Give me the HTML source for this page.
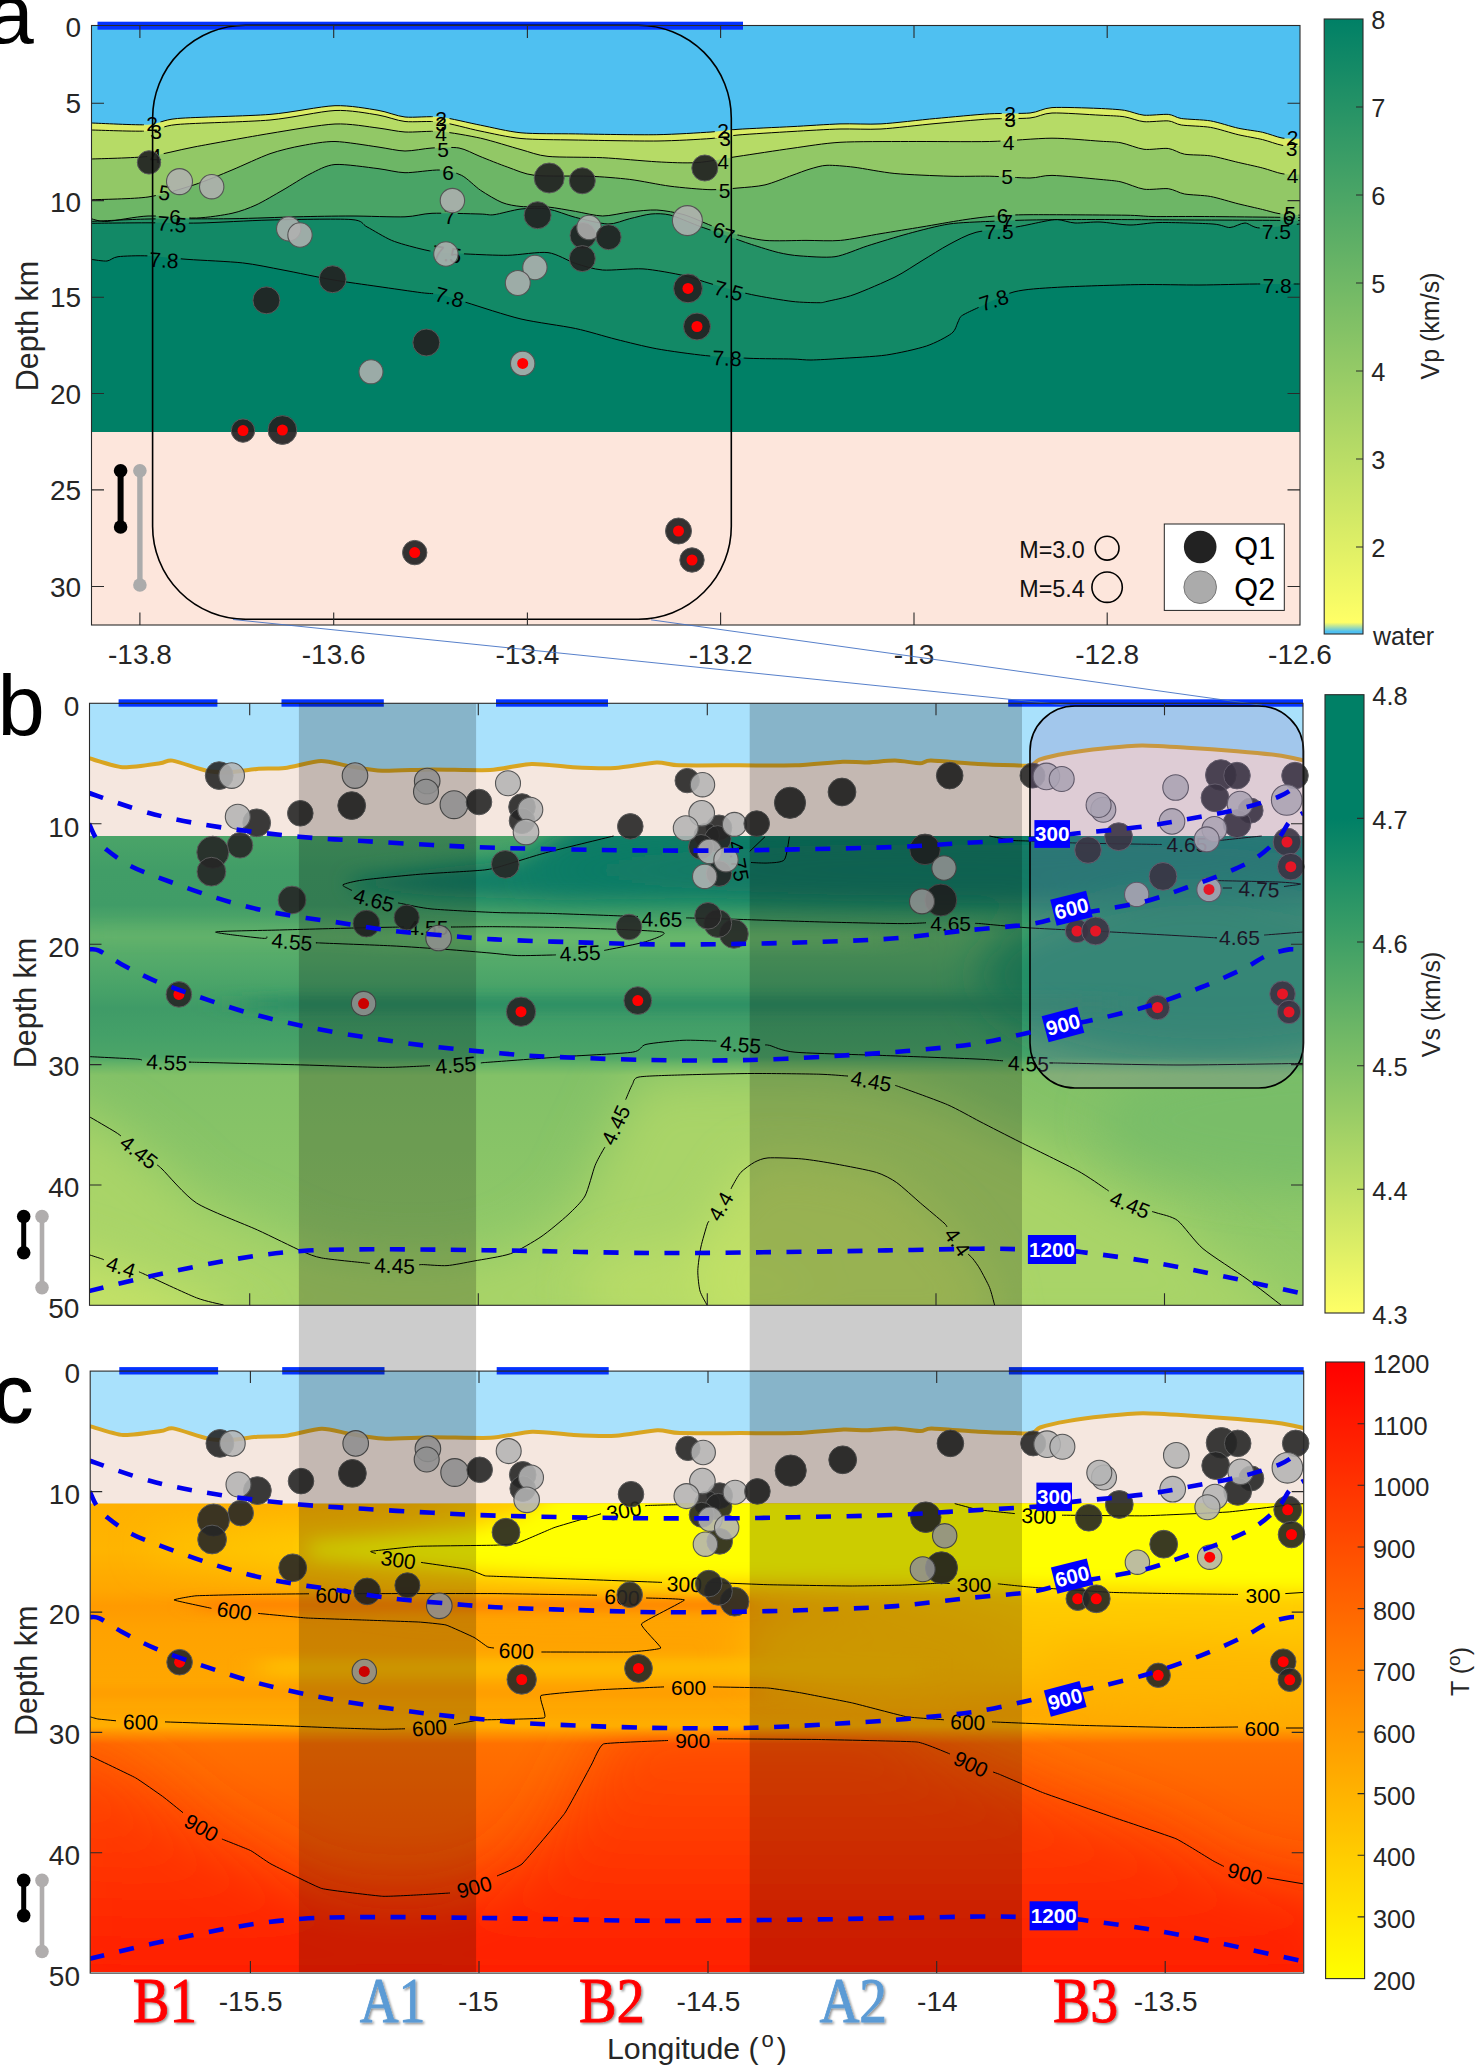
<!DOCTYPE html>
<html><head><meta charset="utf-8"><title>Figure</title>
<style>html,body{margin:0;padding:0;background:#fff}svg{display:block}</style></head><body>
<svg width="1476" height="2068" viewBox="0 0 1476 2068" font-family='"Liberation Sans", sans-serif'>
<rect width="1476" height="2068" fill="#fff"/>
<g id="pa">
<clipPath id="clipA"><rect x="91.5" y="25.5" width="1208.5" height="599.5"/></clipPath>
<g clip-path="url(#clipA)">
<rect x="91.5" y="25.5" width="1208.5" height="406.5" fill="#4fc0f1"/>
<path d="M89.5 123 C89.7 123 83.2 122.8 91 123 C98.8 123.2 136.5 125.3 148 124.7 C159.5 124.1 161.2 119.9 177.5 118.5 C193.8 117.1 249 116.1 270 114.4 C291 112.7 320.6 106.2 335 105.7 C349.4 105.2 368.7 108.8 378 110.3 C387.3 111.8 396.7 116.1 405 117 C413.3 117.9 429.9 115.9 440 117 C450.1 118.1 469.8 123.1 480.6 125.2 C491.4 127.3 508.3 131.6 521 132.8 C533.7 134 557.4 133.6 575.5 133.9 C593.6 134.2 638.7 135 656.8 134.7 C674.9 134.4 700.2 132.7 711 132 C721.8 131.3 727.2 130 738 129.3 C748.8 128.6 778.4 127.3 792 126.6 C805.6 125.9 828.1 124.3 840 123.9 C851.9 123.5 868.3 124.6 881 123.9 C893.7 123.2 921 119.8 935.5 118.5 C950 117.2 977.1 114.5 989.7 113.8 C1002.3 113.1 1021.7 113.8 1030 113 C1038.3 112.2 1042.9 108.2 1052 107.6 C1061.1 107 1088.3 108 1098 108.4 C1107.7 108.8 1118.3 109.4 1124.4 110.3 C1130.5 111.2 1138.1 114.7 1144 115.2 C1149.9 115.7 1163.3 114 1168.3 114.4 C1173.3 114.8 1175.7 117.6 1181.3 118.5 C1186.9 119.4 1203 119.6 1210.6 120.9 C1218.2 122.2 1231.3 126.7 1238.2 128.2 C1245.1 129.7 1256.8 131 1262.6 132.3 C1268.4 133.6 1277 137.1 1282 138 C1287 138.9 1297.3 138.7 1300 138.8 C1302.7 138.9 1301.7 138.8 1302 138.8 L1302 432 L89.5 432 Z" fill="#dbed66"/>
<path d="M89.5 130 C89.7 130 83.2 129.9 91 130 C98.8 130.1 136.5 131.7 148 131 C159.5 130.3 160.7 126 177 124.5 C193.3 123 248.9 121.9 270 120 C291.1 118.1 320.6 111.2 335 110.5 C349.4 109.8 368.7 113.5 378 115 C387.3 116.5 396.7 120.6 405 121.5 C413.3 122.4 430 120.7 440 122 C450 123.3 469.2 128.8 480 131 C490.8 133.2 508.3 137.3 521 138.5 C533.7 139.7 556.9 139.7 575 140 C593.1 140.3 638.9 141.2 657 141 C675.1 140.8 700.2 139.3 711 138.5 C721.8 137.7 727.2 135.9 738 135 C748.8 134.1 778.4 132.3 792 131.5 C805.6 130.7 828.1 129.3 840 129 C851.9 128.7 868.3 129.7 881 129 C893.7 128.3 920.5 124.9 935 123.6 C949.5 122.3 977.3 119.7 990 119 C1002.7 118.3 1021.7 118.8 1030 118 C1038.3 117.2 1042.7 113.4 1052 113 C1061.3 112.6 1090.3 114.7 1100 115.2 C1109.7 115.7 1118.5 115.9 1124.4 116.8 C1130.3 117.7 1138.1 121.2 1144 121.7 C1149.9 122.2 1163.3 120.5 1168.3 120.9 C1173.3 121.3 1175.7 124.1 1181.3 125 C1186.9 125.9 1203 126.1 1210.6 127.4 C1218.2 128.7 1231.3 133.1 1238.2 134.7 C1245.1 136.3 1256.8 138.2 1262.6 139.6 C1268.4 141 1277 144.4 1282 145.3 C1287 146.2 1297.3 145.9 1300 146 C1302.7 146.1 1301.7 146 1302 146 L1302 432 L89.5 432 Z" fill="#b6db66"/>
<path d="M89.5 159 C89.7 159 83.2 159.3 91 159 C98.8 158.7 134.3 158 148 156.4 C161.7 154.8 177.7 150.1 194 147 C210.3 143.9 251.2 136.5 270 133.4 C288.8 130.3 320.6 124.7 335 124 C349.4 123.3 368.7 126.9 378 128 C387.3 129.1 396.7 131.5 405 132 C413.3 132.5 429.9 130.7 440 131.5 C450.1 132.3 469.8 135.8 480.6 138.2 C491.4 140.6 512 147.2 521 149.6 C530 152 537.1 155.3 548 156.4 C558.9 157.5 588.1 157 602.6 157.7 C617.1 158.4 644.2 161.1 656.8 161.8 C669.4 162.5 686.2 163.3 697 162.6 C707.8 161.9 725.3 158.3 738 156.4 C750.7 154.5 778.4 150.2 792 148.3 C805.6 146.4 824.5 143.2 840 142.3 C855.5 141.4 888.4 141.6 908.4 141.5 C928.4 141.4 970.6 141.9 989.7 141.5 C1008.8 141.1 1037.3 138.2 1052 138.2 C1066.7 138.2 1090.8 140.6 1100 141.2 C1109.2 141.8 1115.1 141.7 1121 142.8 C1126.9 143.9 1137.7 148.5 1144 149.3 C1150.3 150.1 1162.9 147.8 1168.3 148.5 C1173.7 149.2 1179 153.2 1184.6 154.2 C1190.2 155.2 1203.5 154.8 1210.6 155.9 C1217.7 157 1231.3 160.8 1238.2 162.4 C1245.1 164 1256.8 166.5 1262.6 168 C1268.4 169.5 1277 172.8 1282 173.7 C1287 174.6 1297.3 174.5 1300 174.6 C1302.7 174.7 1301.7 174.6 1302 174.6 L1302 432 L89.5 432 Z" fill="#92c866"/>
<path d="M89.5 199.8 C89.7 199.8 83.2 200.2 91 199.8 C98.8 199.4 134.3 199 148 197 C161.7 195 182.8 188.5 194 184.9 C205.2 181.3 221.9 174.2 232 170 C242.1 165.8 260.7 157 270 153.7 C279.3 150.4 293.3 147.2 302 145.6 C310.7 144 324.9 141.3 335 141.5 C345.1 141.7 368.7 145.7 378 147 C387.3 148.3 397.8 150.9 405 151 C412.2 151.1 424.8 148.4 432 148 C439.2 147.6 452.6 146.9 459 148 C465.4 149.1 473.5 153.8 480 156.4 C486.5 159 500.5 164.7 507.8 167.2 C515.1 169.7 524.1 174.2 534.9 175.4 C545.7 176.6 576.4 175.7 589 176.2 C601.6 176.7 618.9 178.1 629.7 179.4 C640.5 180.7 659.2 184.8 670 186.2 C680.8 187.6 701.9 189.5 711 189.7 C720.1 189.9 730.8 188.6 738 188 C745.2 187.4 757.8 186.6 765 184.9 C772.2 183.2 786 177.5 792 175.4 C798 173.3 805.3 170.3 810 169 C814.7 167.7 821.1 165.5 827 165.3 C832.9 165.1 844.9 166.1 854 167.2 C863.1 168.3 882.2 172.3 894.9 173.5 C907.6 174.7 936.4 175.8 949 176.2 C961.6 176.6 978.9 176 989.7 176.2 C1000.5 176.4 1021.7 178.1 1030 178 C1038.3 177.9 1042.7 175.2 1052 175.4 C1061.3 175.6 1090.8 178.5 1100 179.4 C1109.2 180.3 1115.1 180.6 1121 181.9 C1126.9 183.2 1137.7 188.3 1144 189.2 C1150.3 190.1 1162.9 188.1 1168.3 188.7 C1173.7 189.3 1179 193 1184.6 194 C1190.2 195 1203.5 195.2 1210.6 196.5 C1217.7 197.8 1231.3 202.1 1238.2 203.8 C1245.1 205.5 1257.2 208.2 1262.6 209.5 C1268 210.8 1274 212.8 1279 213.6 C1284 214.4 1296.9 215 1300 215.2 C1303.1 215.4 1301.7 215.2 1302 215.2 L1302 432 L89.5 432 Z" fill="#6db666"/>
<path d="M89.5 218.7 C89.7 218.7 88.7 218.3 91 218.7 C93.3 219.1 99.4 221.8 107 221.4 C114.6 221 136.1 216.5 148 216 C159.9 215.5 185.3 218.4 196.5 218 C207.7 217.6 224.1 215 232 213.3 C239.9 211.6 249.2 208.1 256 205 C262.8 201.9 275.8 194.1 283 190 C290.2 185.9 303.1 177.4 310 174 C316.9 170.6 325.9 165.2 335 164.5 C344.1 163.8 368.7 167.5 378 168.6 C387.3 169.7 396.7 172.5 405 172.7 C413.3 172.9 432.4 169.6 440 170 C447.6 170.4 456.3 172.7 461.7 175.4 C467.1 178.1 475.2 186.7 480.6 190.3 C486 193.9 496.6 200.3 502 202.5 C507.4 204.7 514.9 205.9 521 206.5 C527.1 207.1 540.7 206.3 548 207 C555.3 207.7 568.2 210.2 575.5 211.4 C582.8 212.6 595.4 215.9 602.6 216 C609.8 216.1 622.5 212.8 629.7 212 C636.9 211.2 649.6 209.6 656.8 210 C664 210.4 676.8 212.6 684 214.7 C691.2 216.8 704.5 223 711 225.5 C717.5 228 725.5 231.6 732.7 233.6 C739.9 235.6 755.2 239.5 765 240.4 C774.8 241.3 795.9 240.4 806 240.4 C816.1 240.4 830.6 241.3 840.6 240.4 C850.6 239.5 870.1 235.4 881 233.6 C891.9 231.8 911.1 228.7 922 226.9 C932.9 225.1 952.9 221.5 962.6 220 C972.3 218.5 986 216.7 995 216 C1004 215.3 1012.7 214.8 1030 214.7 C1047.3 214.6 1108.7 215 1125 215.2 C1141.3 215.4 1142 216.3 1152 216.5 C1162 216.7 1180.3 216.4 1200 216.5 C1219.7 216.6 1286.4 217.4 1300 217.5 C1313.6 217.6 1301.7 217.5 1302 217.5 L1302 432 L89.5 432 Z" fill="#49a466"/>
<path d="M89.5 221.4 C89.7 221.4 83.2 221.7 91 221.4 C98.8 221.1 129.2 219.4 148 219 C166.8 218.6 212.1 219 232 218.7 C251.9 218.4 281.1 217.2 297 216.8 C312.9 216.4 336.6 216 351 216 C365.4 216 394.2 217.2 405 216.8 C415.8 216.4 422 213.7 432 213.3 C442 212.9 471.7 213.8 480 214 C488.3 214.2 488.5 215.4 494 214.7 C499.5 214 513.8 209.8 521 209 C528.2 208.2 540.7 207.9 548 209 C555.3 210.1 567.5 215.4 575.5 217.4 C583.5 219.4 600.8 223.8 608 224 C615.2 224.2 624 220 629.7 218.7 C635.4 217.4 645.6 214.5 651 214 C656.4 213.5 663.8 213.5 670 215 C676.2 216.5 690.2 222.8 697.5 225.5 C704.8 228.2 717.4 232.5 724.6 235 C731.8 237.5 744.4 242.2 751.6 244.5 C758.8 246.8 772.2 251.1 778.7 252.6 C785.2 254.1 792.5 255.4 800 255.9 C807.5 256.4 826 258 835 256.7 C844 255.4 857.9 248.9 867.7 245.8 C877.5 242.7 897.6 236.5 908.4 233.6 C919.2 230.7 938.2 225.6 949 224 C959.8 222.4 978.9 221.9 989.7 221.4 C1000.5 220.9 1015.3 220.3 1030 220 C1044.7 219.7 1077.3 219.5 1100 219.5 C1122.7 219.5 1173.3 219.9 1200 220 C1226.7 220.1 1286.4 220.4 1300 220.5 C1313.6 220.6 1301.7 220.5 1302 220.5 L1302 432 L89.5 432 Z" fill="#249266"/>
<path d="M89.5 223.3 C89.7 223.3 83.2 223.4 91 223.3 C98.8 223.2 133.5 222.8 148 222.8 C162.5 222.8 183.7 223.4 200 223 C216.3 222.6 249.9 220.5 270 220 C290.1 219.5 338.1 218.6 351 219.5 C363.9 220.4 361.6 224.1 367 226.9 C372.4 229.7 384.8 237.5 391.7 240.4 C398.6 243.3 412.6 246.9 419 248.5 C425.4 250.1 433.6 251.9 440 252.6 C446.4 253.3 458 253.6 467 254 C476 254.4 497 255.5 507.8 255.3 C518.6 255.1 539 251.5 548 252.6 C557 253.7 568.2 261.1 575.5 263.4 C582.8 265.7 593.6 269.3 602.6 270 C611.6 270.7 632.1 268.2 643 268.9 C653.9 269.6 674.9 273.6 684 275.6 C693.1 277.6 702 281.3 711 283.8 C720 286.3 740.8 292.3 751.6 294.6 C762.4 296.9 783 300.3 792 301.4 C801 302.5 814.3 302.7 819 302.7 C823.7 302.7 822.3 302.5 827 301.4 C831.7 300.3 844.9 297.9 854 294.6 C863.1 291.3 885.9 281.5 895 277 C904.1 272.5 914.8 265 922 260.7 C929.2 256.4 941.8 248.3 949 244.5 C956.2 240.7 967 234.6 976 232.3 C985 230 1007.7 228.4 1016.8 226.9 C1025.9 225.4 1038.6 222.4 1044 221.4 C1049.4 220.4 1053.4 219.3 1057.5 219.5 C1061.6 219.7 1069.3 222.7 1075 223 C1080.7 223.3 1092.7 221.7 1100 222 C1107.3 222.3 1122 224.9 1130 225 C1138 225.1 1148.9 222.6 1160 222.5 C1171.1 222.4 1203.7 223.3 1213 224 C1222.3 224.7 1225.7 227.6 1230 227.5 C1234.3 227.4 1241 222.9 1245 223 C1249 223.1 1252.7 227.9 1260 228 C1267.3 228.1 1294.4 224.5 1300 224 C1305.6 223.5 1301.7 224 1302 224 L1302 432 L89.5 432 Z" fill="#128966"/>
<path d="M89.5 259.4 C89.7 259.4 88.7 259.2 91 259.4 C93.3 259.6 103.4 261.4 107 261 C110.6 260.6 112.5 257.4 118 256.7 C123.5 256 138.7 255.5 148 255.9 C157.3 256.3 175.4 258.5 188 259.4 C200.6 260.3 229.9 261.5 242.6 262.9 C255.3 264.3 271.1 267.8 283 270 C294.9 272.2 319.3 277.5 332 279.7 C344.7 281.9 366.1 284.8 378 286.5 C389.9 288.2 413.2 291.6 421.5 292.7 C429.8 293.8 433.9 293.3 440 294.6 C446.1 295.9 456.2 299.4 467 302.7 C477.8 306 506.5 315.6 521 319 C535.5 322.4 562.8 325.8 575.5 328.5 C588.2 331.2 605.2 336.6 616 339.3 C626.8 342 644.9 346.6 656.8 348.8 C668.7 351 693.3 354.3 705.6 355.6 C717.9 356.9 737.5 357.8 749 358.3 C760.5 358.8 783.7 358.8 792 359 C800.3 359.2 804.6 360.1 811 360 C817.4 359.9 829.9 359.2 840 358.5 C850.1 357.8 874.9 356.7 886.4 355 C897.9 353.3 917.8 348.9 926.5 346 C935.2 343.1 947.4 336.6 951.6 333.4 C955.8 330.2 956.7 324.3 958 322 C959.3 319.7 959.1 317.7 961.6 315.9 C964.1 314.1 969.7 311.5 976.7 308.3 C983.7 305.1 1003.2 294.7 1014 291.9 C1024.8 289.1 1040.9 288.3 1057.5 287.3 C1074.1 286.3 1119.8 284.9 1138.8 284.6 C1157.8 284.3 1184.5 285.1 1200 285 C1215.5 284.9 1241.7 284.1 1255 284 C1268.3 283.9 1293.7 284 1300 284 C1306.3 284 1301.7 284 1302 284 L1302 432 L89.5 432 Z" fill="#008066"/>
<rect x="91.5" y="432" width="1208.5" height="193" fill="#fde6dc"/>
<mask id="mA" maskUnits="userSpaceOnUse" x="0" y="0" width="1476" height="700"><rect x="0" y="0" width="1476" height="700" fill="#fff"/><rect x="143.8" y="115" width="16.5" height="17" fill="#000" transform="rotate(0 152 123.5)"/><rect x="147.8" y="122.5" width="16.5" height="17" fill="#000" transform="rotate(0 156 131)"/><rect x="147.2" y="146.5" width="16.5" height="17" fill="#000" transform="rotate(0 155.5 155)"/><rect x="156.3" y="184" width="16.5" height="17" fill="#000" transform="rotate(8 164.6 192.5)"/><rect x="166.8" y="207.5" width="16.5" height="17" fill="#000" transform="rotate(0 175 216)"/><rect x="155.2" y="215.5" width="33.5" height="17" fill="#000" transform="rotate(5 172 224)"/><rect x="147.2" y="251.5" width="33.5" height="17" fill="#000" transform="rotate(3 164 260)"/><rect x="432.8" y="109.5" width="16.5" height="17" fill="#000" transform="rotate(0 441 118)"/><rect x="432.8" y="114.5" width="16.5" height="17" fill="#000" transform="rotate(0 441 123)"/><rect x="432.8" y="124.5" width="16.5" height="17" fill="#000" transform="rotate(0 441 133)"/><rect x="434.8" y="140.5" width="16.5" height="17" fill="#000" transform="rotate(0 443 149)"/><rect x="439.8" y="164.1" width="16.5" height="17" fill="#000" transform="rotate(0 448 172.6)"/><rect x="441.2" y="207.5" width="16.5" height="17" fill="#000" transform="rotate(0 449.5 216)"/><rect x="430.2" y="245.5" width="33.5" height="17" fill="#000" transform="rotate(8 447 254)"/><rect x="432.8" y="288.5" width="33.5" height="17" fill="#000" transform="rotate(15 449.5 297)"/><rect x="714.8" y="121.5" width="16.5" height="17" fill="#000" transform="rotate(0 723 130)"/><rect x="716.8" y="130.3" width="16.5" height="17" fill="#000" transform="rotate(0 725 138.8)"/><rect x="714.8" y="152.5" width="16.5" height="17" fill="#000" transform="rotate(0 723 161)"/><rect x="716.2" y="181.5" width="16.5" height="17" fill="#000" transform="rotate(0 724.5 190)"/><rect x="710.8" y="221.5" width="16.5" height="17" fill="#000" transform="rotate(15 719 230)"/><rect x="720.4" y="227.5" width="16.5" height="17" fill="#000" transform="rotate(15 728.6 236)"/><rect x="711.9" y="282" width="33.5" height="17" fill="#000" transform="rotate(15 728.6 290.5)"/><rect x="710.2" y="349.5" width="33.5" height="17" fill="#000" transform="rotate(2 727 358)"/><rect x="1001.8" y="104.5" width="16.5" height="17" fill="#000" transform="rotate(0 1010 113)"/><rect x="1001.8" y="111.3" width="16.5" height="17" fill="#000" transform="rotate(0 1010 119.8)"/><rect x="1000.5" y="134.3" width="16.5" height="17" fill="#000" transform="rotate(0 1008.7 142.8)"/><rect x="998.8" y="168.2" width="16.5" height="17" fill="#000" transform="rotate(0 1007 176.7)"/><rect x="994.5" y="206.7" width="16.5" height="17" fill="#000" transform="rotate(0 1002.7 215.2)"/><rect x="998.8" y="212.9" width="16.5" height="17" fill="#000" transform="rotate(0 1007 221.4)"/><rect x="982.2" y="222.5" width="33.5" height="17" fill="#000" transform="rotate(0 999 231)"/><rect x="977" y="291.5" width="33.5" height="17" fill="#000" transform="rotate(-18 993.8 300)"/><rect x="1284.5" y="129" width="16.5" height="17" fill="#000" transform="rotate(0 1292.7 137.5)"/><rect x="1283.2" y="140" width="16.5" height="17" fill="#000" transform="rotate(0 1291.5 148.5)"/><rect x="1284.5" y="166.9" width="16.5" height="17" fill="#000" transform="rotate(0 1292.7 175.4)"/><rect x="1281.8" y="205.1" width="16.5" height="17" fill="#000" transform="rotate(0 1290 213.6)"/><rect x="1280.3" y="209.1" width="16.5" height="17" fill="#000" transform="rotate(0 1288.6 217.6)"/><rect x="1259.7" y="223" width="33.5" height="17" fill="#000" transform="rotate(0 1276.4 231.5)"/><rect x="1260.2" y="276.5" width="33.5" height="17" fill="#000" transform="rotate(0 1277 285)"/></mask>
<g fill="none" stroke="#000" stroke-width="1" stroke-linejoin="round" mask="url(#mA)">
<path d="M89.5 123 C89.7 123 83.2 122.8 91 123 C98.8 123.2 136.5 125.3 148 124.7 C159.5 124.1 161.2 119.9 177.5 118.5 C193.8 117.1 249 116.1 270 114.4 C291 112.7 320.6 106.2 335 105.7 C349.4 105.2 368.7 108.8 378 110.3 C387.3 111.8 396.7 116.1 405 117 C413.3 117.9 429.9 115.9 440 117 C450.1 118.1 469.8 123.1 480.6 125.2 C491.4 127.3 508.3 131.6 521 132.8 C533.7 134 557.4 133.6 575.5 133.9 C593.6 134.2 638.7 135 656.8 134.7 C674.9 134.4 700.2 132.7 711 132 C721.8 131.3 727.2 130 738 129.3 C748.8 128.6 778.4 127.3 792 126.6 C805.6 125.9 828.1 124.3 840 123.9 C851.9 123.5 868.3 124.6 881 123.9 C893.7 123.2 921 119.8 935.5 118.5 C950 117.2 977.1 114.5 989.7 113.8 C1002.3 113.1 1021.7 113.8 1030 113 C1038.3 112.2 1042.9 108.2 1052 107.6 C1061.1 107 1088.3 108 1098 108.4 C1107.7 108.8 1118.3 109.4 1124.4 110.3 C1130.5 111.2 1138.1 114.7 1144 115.2 C1149.9 115.7 1163.3 114 1168.3 114.4 C1173.3 114.8 1175.7 117.6 1181.3 118.5 C1186.9 119.4 1203 119.6 1210.6 120.9 C1218.2 122.2 1231.3 126.7 1238.2 128.2 C1245.1 129.7 1256.8 131 1262.6 132.3 C1268.4 133.6 1277 137.1 1282 138 C1287 138.9 1297.3 138.7 1300 138.8 C1302.7 138.9 1301.7 138.8 1302 138.8"/>
<path d="M89.5 130 C89.7 130 83.2 129.9 91 130 C98.8 130.1 136.5 131.7 148 131 C159.5 130.3 160.7 126 177 124.5 C193.3 123 248.9 121.9 270 120 C291.1 118.1 320.6 111.2 335 110.5 C349.4 109.8 368.7 113.5 378 115 C387.3 116.5 396.7 120.6 405 121.5 C413.3 122.4 430 120.7 440 122 C450 123.3 469.2 128.8 480 131 C490.8 133.2 508.3 137.3 521 138.5 C533.7 139.7 556.9 139.7 575 140 C593.1 140.3 638.9 141.2 657 141 C675.1 140.8 700.2 139.3 711 138.5 C721.8 137.7 727.2 135.9 738 135 C748.8 134.1 778.4 132.3 792 131.5 C805.6 130.7 828.1 129.3 840 129 C851.9 128.7 868.3 129.7 881 129 C893.7 128.3 920.5 124.9 935 123.6 C949.5 122.3 977.3 119.7 990 119 C1002.7 118.3 1021.7 118.8 1030 118 C1038.3 117.2 1042.7 113.4 1052 113 C1061.3 112.6 1090.3 114.7 1100 115.2 C1109.7 115.7 1118.5 115.9 1124.4 116.8 C1130.3 117.7 1138.1 121.2 1144 121.7 C1149.9 122.2 1163.3 120.5 1168.3 120.9 C1173.3 121.3 1175.7 124.1 1181.3 125 C1186.9 125.9 1203 126.1 1210.6 127.4 C1218.2 128.7 1231.3 133.1 1238.2 134.7 C1245.1 136.3 1256.8 138.2 1262.6 139.6 C1268.4 141 1277 144.4 1282 145.3 C1287 146.2 1297.3 145.9 1300 146 C1302.7 146.1 1301.7 146 1302 146"/>
<path d="M89.5 159 C89.7 159 83.2 159.3 91 159 C98.8 158.7 134.3 158 148 156.4 C161.7 154.8 177.7 150.1 194 147 C210.3 143.9 251.2 136.5 270 133.4 C288.8 130.3 320.6 124.7 335 124 C349.4 123.3 368.7 126.9 378 128 C387.3 129.1 396.7 131.5 405 132 C413.3 132.5 429.9 130.7 440 131.5 C450.1 132.3 469.8 135.8 480.6 138.2 C491.4 140.6 512 147.2 521 149.6 C530 152 537.1 155.3 548 156.4 C558.9 157.5 588.1 157 602.6 157.7 C617.1 158.4 644.2 161.1 656.8 161.8 C669.4 162.5 686.2 163.3 697 162.6 C707.8 161.9 725.3 158.3 738 156.4 C750.7 154.5 778.4 150.2 792 148.3 C805.6 146.4 824.5 143.2 840 142.3 C855.5 141.4 888.4 141.6 908.4 141.5 C928.4 141.4 970.6 141.9 989.7 141.5 C1008.8 141.1 1037.3 138.2 1052 138.2 C1066.7 138.2 1090.8 140.6 1100 141.2 C1109.2 141.8 1115.1 141.7 1121 142.8 C1126.9 143.9 1137.7 148.5 1144 149.3 C1150.3 150.1 1162.9 147.8 1168.3 148.5 C1173.7 149.2 1179 153.2 1184.6 154.2 C1190.2 155.2 1203.5 154.8 1210.6 155.9 C1217.7 157 1231.3 160.8 1238.2 162.4 C1245.1 164 1256.8 166.5 1262.6 168 C1268.4 169.5 1277 172.8 1282 173.7 C1287 174.6 1297.3 174.5 1300 174.6 C1302.7 174.7 1301.7 174.6 1302 174.6"/>
<path d="M89.5 199.8 C89.7 199.8 83.2 200.2 91 199.8 C98.8 199.4 134.3 199 148 197 C161.7 195 182.8 188.5 194 184.9 C205.2 181.3 221.9 174.2 232 170 C242.1 165.8 260.7 157 270 153.7 C279.3 150.4 293.3 147.2 302 145.6 C310.7 144 324.9 141.3 335 141.5 C345.1 141.7 368.7 145.7 378 147 C387.3 148.3 397.8 150.9 405 151 C412.2 151.1 424.8 148.4 432 148 C439.2 147.6 452.6 146.9 459 148 C465.4 149.1 473.5 153.8 480 156.4 C486.5 159 500.5 164.7 507.8 167.2 C515.1 169.7 524.1 174.2 534.9 175.4 C545.7 176.6 576.4 175.7 589 176.2 C601.6 176.7 618.9 178.1 629.7 179.4 C640.5 180.7 659.2 184.8 670 186.2 C680.8 187.6 701.9 189.5 711 189.7 C720.1 189.9 730.8 188.6 738 188 C745.2 187.4 757.8 186.6 765 184.9 C772.2 183.2 786 177.5 792 175.4 C798 173.3 805.3 170.3 810 169 C814.7 167.7 821.1 165.5 827 165.3 C832.9 165.1 844.9 166.1 854 167.2 C863.1 168.3 882.2 172.3 894.9 173.5 C907.6 174.7 936.4 175.8 949 176.2 C961.6 176.6 978.9 176 989.7 176.2 C1000.5 176.4 1021.7 178.1 1030 178 C1038.3 177.9 1042.7 175.2 1052 175.4 C1061.3 175.6 1090.8 178.5 1100 179.4 C1109.2 180.3 1115.1 180.6 1121 181.9 C1126.9 183.2 1137.7 188.3 1144 189.2 C1150.3 190.1 1162.9 188.1 1168.3 188.7 C1173.7 189.3 1179 193 1184.6 194 C1190.2 195 1203.5 195.2 1210.6 196.5 C1217.7 197.8 1231.3 202.1 1238.2 203.8 C1245.1 205.5 1257.2 208.2 1262.6 209.5 C1268 210.8 1274 212.8 1279 213.6 C1284 214.4 1296.9 215 1300 215.2 C1303.1 215.4 1301.7 215.2 1302 215.2"/>
<path d="M89.5 218.7 C89.7 218.7 88.7 218.3 91 218.7 C93.3 219.1 99.4 221.8 107 221.4 C114.6 221 136.1 216.5 148 216 C159.9 215.5 185.3 218.4 196.5 218 C207.7 217.6 224.1 215 232 213.3 C239.9 211.6 249.2 208.1 256 205 C262.8 201.9 275.8 194.1 283 190 C290.2 185.9 303.1 177.4 310 174 C316.9 170.6 325.9 165.2 335 164.5 C344.1 163.8 368.7 167.5 378 168.6 C387.3 169.7 396.7 172.5 405 172.7 C413.3 172.9 432.4 169.6 440 170 C447.6 170.4 456.3 172.7 461.7 175.4 C467.1 178.1 475.2 186.7 480.6 190.3 C486 193.9 496.6 200.3 502 202.5 C507.4 204.7 514.9 205.9 521 206.5 C527.1 207.1 540.7 206.3 548 207 C555.3 207.7 568.2 210.2 575.5 211.4 C582.8 212.6 595.4 215.9 602.6 216 C609.8 216.1 622.5 212.8 629.7 212 C636.9 211.2 649.6 209.6 656.8 210 C664 210.4 676.8 212.6 684 214.7 C691.2 216.8 704.5 223 711 225.5 C717.5 228 725.5 231.6 732.7 233.6 C739.9 235.6 755.2 239.5 765 240.4 C774.8 241.3 795.9 240.4 806 240.4 C816.1 240.4 830.6 241.3 840.6 240.4 C850.6 239.5 870.1 235.4 881 233.6 C891.9 231.8 911.1 228.7 922 226.9 C932.9 225.1 952.9 221.5 962.6 220 C972.3 218.5 986 216.7 995 216 C1004 215.3 1012.7 214.8 1030 214.7 C1047.3 214.6 1108.7 215 1125 215.2 C1141.3 215.4 1142 216.3 1152 216.5 C1162 216.7 1180.3 216.4 1200 216.5 C1219.7 216.6 1286.4 217.4 1300 217.5 C1313.6 217.6 1301.7 217.5 1302 217.5"/>
<path d="M89.5 221.4 C89.7 221.4 83.2 221.7 91 221.4 C98.8 221.1 129.2 219.4 148 219 C166.8 218.6 212.1 219 232 218.7 C251.9 218.4 281.1 217.2 297 216.8 C312.9 216.4 336.6 216 351 216 C365.4 216 394.2 217.2 405 216.8 C415.8 216.4 422 213.7 432 213.3 C442 212.9 471.7 213.8 480 214 C488.3 214.2 488.5 215.4 494 214.7 C499.5 214 513.8 209.8 521 209 C528.2 208.2 540.7 207.9 548 209 C555.3 210.1 567.5 215.4 575.5 217.4 C583.5 219.4 600.8 223.8 608 224 C615.2 224.2 624 220 629.7 218.7 C635.4 217.4 645.6 214.5 651 214 C656.4 213.5 663.8 213.5 670 215 C676.2 216.5 690.2 222.8 697.5 225.5 C704.8 228.2 717.4 232.5 724.6 235 C731.8 237.5 744.4 242.2 751.6 244.5 C758.8 246.8 772.2 251.1 778.7 252.6 C785.2 254.1 792.5 255.4 800 255.9 C807.5 256.4 826 258 835 256.7 C844 255.4 857.9 248.9 867.7 245.8 C877.5 242.7 897.6 236.5 908.4 233.6 C919.2 230.7 938.2 225.6 949 224 C959.8 222.4 978.9 221.9 989.7 221.4 C1000.5 220.9 1015.3 220.3 1030 220 C1044.7 219.7 1077.3 219.5 1100 219.5 C1122.7 219.5 1173.3 219.9 1200 220 C1226.7 220.1 1286.4 220.4 1300 220.5 C1313.6 220.6 1301.7 220.5 1302 220.5"/>
<path d="M89.5 223.3 C89.7 223.3 83.2 223.4 91 223.3 C98.8 223.2 133.5 222.8 148 222.8 C162.5 222.8 183.7 223.4 200 223 C216.3 222.6 249.9 220.5 270 220 C290.1 219.5 338.1 218.6 351 219.5 C363.9 220.4 361.6 224.1 367 226.9 C372.4 229.7 384.8 237.5 391.7 240.4 C398.6 243.3 412.6 246.9 419 248.5 C425.4 250.1 433.6 251.9 440 252.6 C446.4 253.3 458 253.6 467 254 C476 254.4 497 255.5 507.8 255.3 C518.6 255.1 539 251.5 548 252.6 C557 253.7 568.2 261.1 575.5 263.4 C582.8 265.7 593.6 269.3 602.6 270 C611.6 270.7 632.1 268.2 643 268.9 C653.9 269.6 674.9 273.6 684 275.6 C693.1 277.6 702 281.3 711 283.8 C720 286.3 740.8 292.3 751.6 294.6 C762.4 296.9 783 300.3 792 301.4 C801 302.5 814.3 302.7 819 302.7 C823.7 302.7 822.3 302.5 827 301.4 C831.7 300.3 844.9 297.9 854 294.6 C863.1 291.3 885.9 281.5 895 277 C904.1 272.5 914.8 265 922 260.7 C929.2 256.4 941.8 248.3 949 244.5 C956.2 240.7 967 234.6 976 232.3 C985 230 1007.7 228.4 1016.8 226.9 C1025.9 225.4 1038.6 222.4 1044 221.4 C1049.4 220.4 1053.4 219.3 1057.5 219.5 C1061.6 219.7 1069.3 222.7 1075 223 C1080.7 223.3 1092.7 221.7 1100 222 C1107.3 222.3 1122 224.9 1130 225 C1138 225.1 1148.9 222.6 1160 222.5 C1171.1 222.4 1203.7 223.3 1213 224 C1222.3 224.7 1225.7 227.6 1230 227.5 C1234.3 227.4 1241 222.9 1245 223 C1249 223.1 1252.7 227.9 1260 228 C1267.3 228.1 1294.4 224.5 1300 224 C1305.6 223.5 1301.7 224 1302 224"/>
<path d="M89.5 259.4 C89.7 259.4 88.7 259.2 91 259.4 C93.3 259.6 103.4 261.4 107 261 C110.6 260.6 112.5 257.4 118 256.7 C123.5 256 138.7 255.5 148 255.9 C157.3 256.3 175.4 258.5 188 259.4 C200.6 260.3 229.9 261.5 242.6 262.9 C255.3 264.3 271.1 267.8 283 270 C294.9 272.2 319.3 277.5 332 279.7 C344.7 281.9 366.1 284.8 378 286.5 C389.9 288.2 413.2 291.6 421.5 292.7 C429.8 293.8 433.9 293.3 440 294.6 C446.1 295.9 456.2 299.4 467 302.7 C477.8 306 506.5 315.6 521 319 C535.5 322.4 562.8 325.8 575.5 328.5 C588.2 331.2 605.2 336.6 616 339.3 C626.8 342 644.9 346.6 656.8 348.8 C668.7 351 693.3 354.3 705.6 355.6 C717.9 356.9 737.5 357.8 749 358.3 C760.5 358.8 783.7 358.8 792 359 C800.3 359.2 804.6 360.1 811 360 C817.4 359.9 829.9 359.2 840 358.5 C850.1 357.8 874.9 356.7 886.4 355 C897.9 353.3 917.8 348.9 926.5 346 C935.2 343.1 947.4 336.6 951.6 333.4 C955.8 330.2 956.7 324.3 958 322 C959.3 319.7 959.1 317.7 961.6 315.9 C964.1 314.1 969.7 311.5 976.7 308.3 C983.7 305.1 1003.2 294.7 1014 291.9 C1024.8 289.1 1040.9 288.3 1057.5 287.3 C1074.1 286.3 1119.8 284.9 1138.8 284.6 C1157.8 284.3 1184.5 285.1 1200 285 C1215.5 284.9 1241.7 284.1 1255 284 C1268.3 283.9 1293.7 284 1300 284 C1306.3 284 1301.7 284 1302 284"/>
</g>
</g>
<g font-family='"Liberation Sans", sans-serif'>
<text x="152" y="131.1" font-size="21" text-anchor="middle" fill="#000">2</text>
<text x="156" y="138.6" font-size="21" text-anchor="middle" fill="#000">3</text>
<text x="155.5" y="162.6" font-size="21" text-anchor="middle" fill="#000">4</text>
<text x="164.6" y="200.1" font-size="21" text-anchor="middle" fill="#000" transform="rotate(8 164.6 192.5)">5</text>
<text x="175" y="223.6" font-size="21" text-anchor="middle" fill="#000">6</text>
<text x="172" y="231.6" font-size="21" text-anchor="middle" fill="#000" transform="rotate(5 172 224)">7.5</text>
<text x="164" y="267.6" font-size="21" text-anchor="middle" fill="#000" transform="rotate(3 164 260)">7.8</text>
<text x="441" y="125.6" font-size="21" text-anchor="middle" fill="#000">2</text>
<text x="441" y="130.6" font-size="21" text-anchor="middle" fill="#000">3</text>
<text x="441" y="140.6" font-size="21" text-anchor="middle" fill="#000">4</text>
<text x="443" y="156.6" font-size="21" text-anchor="middle" fill="#000">5</text>
<text x="448" y="180.2" font-size="21" text-anchor="middle" fill="#000">6</text>
<text x="449.5" y="223.6" font-size="21" text-anchor="middle" fill="#000">7</text>
<text x="447" y="261.6" font-size="21" text-anchor="middle" fill="#000" transform="rotate(8 447 254)">7.5</text>
<text x="449.5" y="304.6" font-size="21" text-anchor="middle" fill="#000" transform="rotate(15 449.5 297)">7.8</text>
<text x="723" y="137.6" font-size="21" text-anchor="middle" fill="#000">2</text>
<text x="725" y="146.4" font-size="21" text-anchor="middle" fill="#000">3</text>
<text x="723" y="168.6" font-size="21" text-anchor="middle" fill="#000">4</text>
<text x="724.5" y="197.6" font-size="21" text-anchor="middle" fill="#000">5</text>
<text x="719" y="237.6" font-size="21" text-anchor="middle" fill="#000" transform="rotate(15 719 230)">6</text>
<text x="728.6" y="243.6" font-size="21" text-anchor="middle" fill="#000" transform="rotate(15 728.6 236)">7</text>
<text x="728.6" y="298.1" font-size="21" text-anchor="middle" fill="#000" transform="rotate(15 728.6 290.5)">7.5</text>
<text x="727" y="365.6" font-size="21" text-anchor="middle" fill="#000" transform="rotate(2 727 358)">7.8</text>
<text x="1010" y="120.6" font-size="21" text-anchor="middle" fill="#000">2</text>
<text x="1010" y="127.4" font-size="21" text-anchor="middle" fill="#000">3</text>
<text x="1008.7" y="150.4" font-size="21" text-anchor="middle" fill="#000">4</text>
<text x="1007" y="184.3" font-size="21" text-anchor="middle" fill="#000">5</text>
<text x="1002.7" y="222.8" font-size="21" text-anchor="middle" fill="#000">6</text>
<text x="1007" y="229" font-size="21" text-anchor="middle" fill="#000">7</text>
<text x="999" y="238.6" font-size="21" text-anchor="middle" fill="#000">7.5</text>
<text x="993.8" y="307.6" font-size="21" text-anchor="middle" fill="#000" transform="rotate(-18 993.8 300)">7.8</text>
<text x="1292.7" y="145.1" font-size="21" text-anchor="middle" fill="#000">2</text>
<text x="1291.5" y="156.1" font-size="21" text-anchor="middle" fill="#000">3</text>
<text x="1292.7" y="183" font-size="21" text-anchor="middle" fill="#000">4</text>
<text x="1290" y="221.2" font-size="21" text-anchor="middle" fill="#000">5</text>
<text x="1288.6" y="225.2" font-size="21" text-anchor="middle" fill="#000">6</text>
<text x="1276.4" y="239.1" font-size="21" text-anchor="middle" fill="#000">7.5</text>
<text x="1277" y="292.6" font-size="21" text-anchor="middle" fill="#000">7.8</text>
</g>
<rect x="97.5" y="21.7" width="645.5" height="8" fill="#0433ff"/>
<rect x="97.5" y="25" width="645.5" height="1" fill="#1a2f8f"/>
<circle cx="149" cy="162.4" r="11.7" fill="#222" fill-opacity="0.92" stroke="#5a5a5a" stroke-width="1"/>
<circle cx="179.5" cy="181.6" r="13" fill="#b0b0b0" fill-opacity="0.88" stroke="#555" stroke-width="1.1"/>
<circle cx="211.7" cy="186.7" r="12.2" fill="#b0b0b0" fill-opacity="0.88" stroke="#555" stroke-width="1.1"/>
<circle cx="288.7" cy="228.8" r="12.2" fill="#b0b0b0" fill-opacity="0.88" stroke="#555" stroke-width="1.1"/>
<circle cx="300" cy="235" r="12.2" fill="#b0b0b0" fill-opacity="0.88" stroke="#555" stroke-width="1.1"/>
<circle cx="452.4" cy="200.6" r="12.2" fill="#b0b0b0" fill-opacity="0.88" stroke="#555" stroke-width="1.1"/>
<circle cx="445.9" cy="254" r="12.2" fill="#b0b0b0" fill-opacity="0.88" stroke="#555" stroke-width="1.1"/>
<circle cx="332.6" cy="279.2" r="13.5" fill="#222" fill-opacity="0.92" stroke="#5a5a5a" stroke-width="1"/>
<circle cx="266.4" cy="300.3" r="13.5" fill="#222" fill-opacity="0.92" stroke="#5a5a5a" stroke-width="1"/>
<circle cx="549.2" cy="178" r="15" fill="#222" fill-opacity="0.92" stroke="#5a5a5a" stroke-width="1"/>
<circle cx="582.3" cy="180.8" r="13" fill="#222" fill-opacity="0.92" stroke="#5a5a5a" stroke-width="1"/>
<circle cx="704.8" cy="168" r="13" fill="#222" fill-opacity="0.92" stroke="#5a5a5a" stroke-width="1"/>
<circle cx="537.6" cy="215.2" r="13.5" fill="#222" fill-opacity="0.92" stroke="#5a5a5a" stroke-width="1"/>
<circle cx="583" cy="235.5" r="13" fill="#222" fill-opacity="0.92" stroke="#5a5a5a" stroke-width="1"/>
<circle cx="589" cy="227.4" r="12.2" fill="#b0b0b0" fill-opacity="0.88" stroke="#555" stroke-width="1.1"/>
<circle cx="608.6" cy="237.2" r="12.5" fill="#222" fill-opacity="0.92" stroke="#5a5a5a" stroke-width="1"/>
<circle cx="582.3" cy="258.6" r="13" fill="#222" fill-opacity="0.92" stroke="#5a5a5a" stroke-width="1"/>
<circle cx="687.4" cy="220.6" r="15" fill="#b0b0b0" fill-opacity="0.88" stroke="#555" stroke-width="1.1"/>
<circle cx="534.9" cy="267.5" r="12.2" fill="#b0b0b0" fill-opacity="0.88" stroke="#555" stroke-width="1.1"/>
<circle cx="517.8" cy="283" r="12.5" fill="#b0b0b0" fill-opacity="0.88" stroke="#555" stroke-width="1.1"/>
<circle cx="688" cy="288.4" r="14.4" fill="#222" fill-opacity="0.92" stroke="#5a5a5a" stroke-width="1"/>
<circle cx="688" cy="288.4" r="5.5" fill="#ff0000"/>
<circle cx="697" cy="326.5" r="13.5" fill="#222" fill-opacity="0.92" stroke="#5a5a5a" stroke-width="1"/>
<circle cx="697" cy="326.5" r="5.5" fill="#ff0000"/>
<circle cx="426.3" cy="342.5" r="13.5" fill="#222" fill-opacity="0.92" stroke="#5a5a5a" stroke-width="1"/>
<circle cx="371" cy="371.8" r="12" fill="#b0b0b0" fill-opacity="0.88" stroke="#555" stroke-width="1.1"/>
<circle cx="243" cy="430.6" r="11.7" fill="#222" fill-opacity="0.92" stroke="#5a5a5a" stroke-width="1"/>
<circle cx="243" cy="430.6" r="5.5" fill="#ff0000"/>
<circle cx="282.4" cy="430" r="14.4" fill="#222" fill-opacity="0.92" stroke="#5a5a5a" stroke-width="1"/>
<circle cx="282.4" cy="430" r="5.5" fill="#ff0000"/>
<circle cx="414.7" cy="552.6" r="12.2" fill="#222" fill-opacity="0.92" stroke="#5a5a5a" stroke-width="1"/>
<circle cx="414.7" cy="552.6" r="5.5" fill="#ff0000"/>
<circle cx="522.7" cy="363.4" r="12.2" fill="#b0b0b0" fill-opacity="0.88" stroke="#555" stroke-width="1.1"/>
<circle cx="522.7" cy="363.4" r="5.5" fill="#ff0000"/>
<circle cx="678.5" cy="531" r="13" fill="#222" fill-opacity="0.92" stroke="#5a5a5a" stroke-width="1"/>
<circle cx="678.5" cy="531" r="5.5" fill="#ff0000"/>
<circle cx="692" cy="560" r="12.2" fill="#222" fill-opacity="0.92" stroke="#5a5a5a" stroke-width="1"/>
<circle cx="692" cy="560" r="5.5" fill="#ff0000"/>
<g stroke-linecap="round"><line x1="120.6" y1="470.7" x2="120.6" y2="527" stroke="#000" stroke-width="6"/><circle cx="120.6" cy="470.7" r="6.8" fill="#000"/><circle cx="120.6" cy="527" r="6.8" fill="#000"/><line x1="139.9" y1="470.7" x2="139.9" y2="585" stroke="#ababab" stroke-width="5.4"/><circle cx="139.9" cy="470.7" r="6.8" fill="#ababab"/><circle cx="139.9" cy="585" r="6.8" fill="#ababab"/></g>
<rect x="152.6" y="25.2" width="578.7" height="594" rx="93" ry="93" fill="none" stroke="#000" stroke-width="1.6"/>
<rect x="91.5" y="25.5" width="1208.5" height="599.5" fill="none" stroke="#2a2a2a" stroke-width="1.1"/>
<path d="M139.9 625 v-12.5 M139.9 25.5 v12.5 M333.7 625 v-12.5 M333.7 25.5 v12.5 M527.4 625 v-12.5 M527.4 25.5 v12.5 M720.6 625 v-12.5 M720.6 25.5 v12.5 M914 625 v-12.5 M914 25.5 v12.5 M1107.2 625 v-12.5 M1107.2 25.5 v12.5 M91.5 103.3 h12.5 M1300 103.3 h-12.5 M91.5 200.6 h12.5 M1300 200.6 h-12.5 M91.5 297.3 h12.5 M1300 297.3 h-12.5 M91.5 393.5 h12.5 M1300 393.5 h-12.5 M91.5 489.9 h12.5 M1300 489.9 h-12.5 M91.5 586.5 h12.5 M1300 586.5 h-12.5" stroke="#2a2a2a" stroke-width="1.1" fill="none"/>
<g font-family='"Liberation Sans", sans-serif'>
<text x="139.9" y="664.4" font-size="28" text-anchor="middle" fill="#262626">-13.8</text>
<text x="333.7" y="664.4" font-size="28" text-anchor="middle" fill="#262626">-13.6</text>
<text x="527.4" y="664.4" font-size="28" text-anchor="middle" fill="#262626">-13.4</text>
<text x="720.6" y="664.4" font-size="28" text-anchor="middle" fill="#262626">-13.2</text>
<text x="914" y="664.4" font-size="28" text-anchor="middle" fill="#262626">-13</text>
<text x="1107.2" y="664.4" font-size="28" text-anchor="middle" fill="#262626">-12.8</text>
<text x="1300" y="664.4" font-size="28" text-anchor="middle" fill="#262626">-12.6</text>
<text x="81.2" y="36.8" font-size="28" text-anchor="end" fill="#262626">0</text>
<text x="81.2" y="113.3" font-size="28" text-anchor="end" fill="#262626">5</text>
<text x="81.2" y="211.5" font-size="28" text-anchor="end" fill="#262626">10</text>
<text x="81.2" y="307" font-size="28" text-anchor="end" fill="#262626">15</text>
<text x="81.2" y="404" font-size="28" text-anchor="end" fill="#262626">20</text>
<text x="81.2" y="500" font-size="28" text-anchor="end" fill="#262626">25</text>
<text x="81.2" y="597" font-size="28" text-anchor="end" fill="#262626">30</text>
<text x="37.7" y="326" font-size="30.5" text-anchor="middle" fill="#262626" transform="rotate(-90 37.7 326)">Depth km</text>
<text x="1019.3" y="558.2" font-size="23.3" text-anchor="start" fill="#111">M=3.0</text>
<text x="1019.3" y="597" font-size="23.3" text-anchor="start" fill="#111">M=5.4</text>
<circle cx="1107.1" cy="548.2" r="11.9" fill="none" stroke="#000" stroke-width="1.6"/>
<circle cx="1107.1" cy="587.2" r="15.2" fill="none" stroke="#000" stroke-width="1.6"/>
<rect x="1164.3" y="524" width="120" height="86.4" fill="#fff" stroke="#222" stroke-width="1"/>
<circle cx="1200.2" cy="547" r="16.3" fill="#222"/>
<circle cx="1200.2" cy="587.2" r="16.3" fill="#ababab" stroke="#777" stroke-width="1"/>
<text x="1234.3" y="559.4" font-size="30.7" text-anchor="start" fill="#000">Q1</text>
<text x="1234.3" y="600" font-size="30.7" text-anchor="start" fill="#000">Q2</text>
</g>
<defs><linearGradient id="cbA" x1="0" y1="0" x2="0" y2="1"><stop offset="0" stop-color="#008066"/><stop offset="0.981" stop-color="#ffff66"/><stop offset="0.984" stop-color="#e2f27c"/><stop offset="0.996" stop-color="#4fc0f1"/><stop offset="1" stop-color="#4fc0f1"/></linearGradient></defs>
<rect x="1324.2" y="19" width="38.8" height="615" fill="url(#cbA)" stroke="#2a2a2a" stroke-width="1.1"/>
<g font-family='"Liberation Sans", sans-serif'>
<text x="1371.3" y="29.3" font-size="25.4" text-anchor="start" fill="#262626">8</text>
<text x="1371.3" y="117.3" font-size="25.4" text-anchor="start" fill="#262626">7</text>
<text x="1371.3" y="205.3" font-size="25.4" text-anchor="start" fill="#262626">6</text>
<text x="1371.3" y="293.3" font-size="25.4" text-anchor="start" fill="#262626">5</text>
<text x="1371.3" y="381.3" font-size="25.4" text-anchor="start" fill="#262626">4</text>
<text x="1371.3" y="469.3" font-size="25.4" text-anchor="start" fill="#262626">3</text>
<text x="1371.3" y="557.3" font-size="25.4" text-anchor="start" fill="#262626">2</text>
<text x="1373" y="644.5" font-size="25" text-anchor="start" fill="#262626">water</text>
<text x="1439.4" y="326" font-size="25" text-anchor="middle" fill="#262626" transform="rotate(-90 1439.4 326)">Vp (km/s)</text>
</g>
<path d="M1363 107 h-7 M1363 195 h-7 M1363 283 h-7 M1363 371 h-7 M1363 459 h-7 M1363 547 h-7" stroke="#2a2a2a" stroke-width="1.1" fill="none"/>
<text x="-13.5" y="42.7" font-size="85" fill="#000" font-family='"Liberation Sans", sans-serif'>a</text>
</g>
<g id="pb">
<clipPath id="clipB"><rect x="89.5" y="703.3" width="1213.5" height="602"/></clipPath>
<g clip-path="url(#clipB)">
<rect x="89.5" y="703.3" width="1213.5" height="132.7" fill="#a9e1fc"/>
<path d="M89 758.3 C92.9 759.3 114.2 766.6 122.5 767.2 C130.8 767.8 154.2 764.1 160 763.3 C165.8 762.5 167 759.7 172.5 760.6 C178 761.5 200.4 769.4 207 770.8 C213.6 772.2 223.6 772.4 229.4 772.2 C235.2 772 250.5 769.4 257 768.9 C263.5 768.4 277.5 768.9 285 768 C292.5 767.1 313.5 761.2 321 761 C328.5 760.8 341.9 764.9 349 766 C356.1 767.1 372.3 770.4 382 770.8 C391.7 771.2 419.4 769.5 432 769.4 C444.6 769.3 478.4 770.6 490 770 C501.6 769.4 522 764.2 531.7 763.9 C541.4 763.6 563.3 766.7 573 767.2 C582.7 767.7 605.2 768.5 615 768 C624.8 767.5 649.2 762.8 656.7 762.5 C664.2 762.2 669.3 765 679 765.3 C688.7 765.6 726.4 765.3 740 765.3 C753.6 765.3 783.6 765.7 795.6 765.3 C807.6 764.9 834.7 762 842.8 761.7 C850.9 761.4 858.9 762.6 865 762.5 C871.1 762.4 888.6 760.5 895 760.6 C901.4 760.7 915.8 763.3 920 763.3 C924.2 763.3 924.2 760.5 931 760.6 C937.8 760.7 968.3 763.4 978 763.9 C987.7 764.4 1008.1 765.1 1014.4 765.3 C1020.7 765.5 1028.9 766 1031.8 765.3 C1034.7 764.6 1035.3 761.1 1039.4 759.7 C1043.5 758.3 1059.6 754.6 1067 753.3 C1074.4 752 1094.2 749.4 1103 748.5 C1111.8 747.6 1132.2 745.6 1142 745.5 C1151.8 745.4 1175.9 747 1187 747.7 C1198.1 748.4 1226.4 750.3 1237 751.2 C1247.6 752.1 1269.7 754.2 1277.5 755.3 C1285.3 756.4 1300.5 759.7 1303.5 760.3 L1304 836 L88.5 836 Z" fill="#f5e7df"/>
<defs>
<linearGradient id="bgB1" x1="0" y1="836" x2="0" y2="1067" gradientUnits="userSpaceOnUse">
<stop offset="0.000" stop-color="#4aa468"/>
<stop offset="0.147" stop-color="#419d67"/>
<stop offset="0.299" stop-color="#409c67"/>
<stop offset="0.437" stop-color="#5eb06a"/>
<stop offset="0.558" stop-color="#52a96a"/>
<stop offset="0.667" stop-color="#47a268"/>
<stop offset="0.745" stop-color="#3f9b67"/>
<stop offset="0.861" stop-color="#44a068"/>
<stop offset="0.961" stop-color="#4ca568"/>
<stop offset="1.000" stop-color="#55ab68"/>
</linearGradient>
<linearGradient id="bgB2" x1="0" y1="1067" x2="0" y2="1305.3" gradientUnits="userSpaceOnUse">
<stop offset="0.000" stop-color="#82c167"/>
<stop offset="0.038" stop-color="#82c167"/>
<stop offset="0.348" stop-color="#88c467"/>
<stop offset="0.684" stop-color="#8fc868"/>
<stop offset="0.999" stop-color="#96cb68"/>
</linearGradient>
<filter id="blB" x="-80%" y="-80%" width="260%" height="260%"><feGaussianBlur stdDeviation="22"/></filter>
<filter id="blB2" x="-80%" y="-80%" width="260%" height="260%"><feGaussianBlur stdDeviation="40"/></filter>
<filter id="blB4" x="-10%" y="-200%" width="120%" height="500%"><feGaussianBlur stdDeviation="25 6"/></filter>
<filter id="blB5" x="-20%" y="-60%" width="140%" height="220%"><feGaussianBlur stdDeviation="26"/></filter>
<filter id="blB6" x="-60%" y="-60%" width="220%" height="220%"><feGaussianBlur stdDeviation="22"/></filter>
<filter id="blB3" x="-80%" y="-80%" width="260%" height="260%"><feGaussianBlur stdDeviation="10"/></filter>
<clipPath id="clipB1"><rect x="89.5" y="836" width="1213.5" height="243"/></clipPath>
<clipPath id="clipB2"><rect x="89.5" y="1053" width="1213.5" height="252.3"/></clipPath>
<linearGradient id="mgB1" x1="0" y1="1057" x2="0" y2="1075" gradientUnits="userSpaceOnUse"><stop offset="0" stop-color="#fff"/><stop offset="1" stop-color="#000"/></linearGradient>
<mask id="mB1" maskUnits="userSpaceOnUse" x="0" y="800" width="1476" height="300"><rect x="0" y="800" width="1476" height="300" fill="url(#mgB1)"/></mask>
</defs>
<rect x="89.5" y="1053" width="1213.5" height="252.3" fill="url(#bgB2)"/>
<g clip-path="url(#clipB2)">
<g filter="url(#blB5)">
<polygon points="40,1095 89,1116.5 115,1131.8 139,1152 162,1169 196.5,1203 257.5,1230 301.5,1251 321.8,1258 365.9,1263 394.6,1265.6 423.4,1264.6 447,1265.6 474,1261 510.5,1253.7 541,1236.8 568,1214.8 585,1196 595,1165.7 602,1152 615.5,1125 625.7,1099.6 632.4,1084.4 639,1077 683,1074.9 751,1073.5 818.8,1074.2 845.9,1075.9 871.3,1081 900,1087 947.5,1104.7 980,1121.6 1020,1142 1077.6,1170.7 1106.4,1189.4 1130,1204.6 1157,1213 1177.6,1220.5 1203,1248.7 1247,1279 1281,1305 1300,1340 40,1340" fill="#a9d467"/>
</g>
<g filter="url(#blB6)">
<polygon points="40,1240 89,1254.7 101.6,1258.8 121,1267 144,1274 196.5,1297.8 223.6,1305 260,1330 40,1330" fill="#bfdf67" fill-opacity="0.9"/>
<polygon points="707,1305 700,1291 697.8,1270.7 700.9,1247 707,1225 720.5,1206 732.4,1186 740.8,1172.4 754.4,1162.3 768,1157.9 801.8,1158.9 835.7,1164 876.4,1172.4 896.7,1182.6 920.4,1203 944,1223 957.6,1242 972.9,1258.8 980,1269 989.6,1287.6 994.6,1305 996,1340 707,1340" fill="#c0e067" fill-opacity="0.9"/>
<ellipse cx="700" cy="1290" rx="120" ry="50" fill="#c6e366" fill-opacity="0.5"/>
<ellipse cx="80" cy="1320" rx="140" ry="40" fill="#c8e566" fill-opacity="0.6"/>
<ellipse cx="1340" cy="1120" rx="240" ry="70" fill="#74bb68" fill-opacity="0.7"/>
</g>
</g>
<g mask="url(#mB1)">
<rect x="89.5" y="836" width="1213.5" height="243" fill="url(#bgB1)"/>
<g clip-path="url(#clipB1)">
<g filter="url(#blB3)">
<polygon points="590,815 1340,815 1340,903 960,903 700,898 560,900 440,896 350,888 350,880 440,868 520,860" fill="#0f7c66" fill-opacity="0.95"/>
</g>
<g filter="url(#blB)">
<ellipse cx="950" cy="870" rx="420" ry="26" fill="#0a7865" fill-opacity="0.7"/>
<ellipse cx="1210" cy="975" rx="230" ry="85" fill="#1b8c66" fill-opacity="0.95"/>
</g>
<g filter="url(#blB4)">
<rect x="250" y="996" width="860" height="16" fill="#2a8b64" fill-opacity="0.75"/>
<rect x="380" y="931" width="500" height="16" fill="#6cbb6c" fill-opacity="0.75"/>
<rect x="60" y="928" width="300" height="14" fill="#66b46b" fill-opacity="0.5"/>
</g>
</g>
</g>
<path d="M89 758.3 C92.9 759.3 114.2 766.6 122.5 767.2 C130.8 767.8 154.2 764.1 160 763.3 C165.8 762.5 167 759.7 172.5 760.6 C178 761.5 200.4 769.4 207 770.8 C213.6 772.2 223.6 772.4 229.4 772.2 C235.2 772 250.5 769.4 257 768.9 C263.5 768.4 277.5 768.9 285 768 C292.5 767.1 313.5 761.2 321 761 C328.5 760.8 341.9 764.9 349 766 C356.1 767.1 372.3 770.4 382 770.8 C391.7 771.2 419.4 769.5 432 769.4 C444.6 769.3 478.4 770.6 490 770 C501.6 769.4 522 764.2 531.7 763.9 C541.4 763.6 563.3 766.7 573 767.2 C582.7 767.7 605.2 768.5 615 768 C624.8 767.5 649.2 762.8 656.7 762.5 C664.2 762.2 669.3 765 679 765.3 C688.7 765.6 726.4 765.3 740 765.3 C753.6 765.3 783.6 765.7 795.6 765.3 C807.6 764.9 834.7 762 842.8 761.7 C850.9 761.4 858.9 762.6 865 762.5 C871.1 762.4 888.6 760.5 895 760.6 C901.4 760.7 915.8 763.3 920 763.3 C924.2 763.3 924.2 760.5 931 760.6 C937.8 760.7 968.3 763.4 978 763.9 C987.7 764.4 1008.1 765.1 1014.4 765.3 C1020.7 765.5 1028.9 766 1031.8 765.3 C1034.7 764.6 1035.3 761.1 1039.4 759.7 C1043.5 758.3 1059.6 754.6 1067 753.3 C1074.4 752 1094.2 749.4 1103 748.5 C1111.8 747.6 1132.2 745.6 1142 745.5 C1151.8 745.4 1175.9 747 1187 747.7 C1198.1 748.4 1226.4 750.3 1237 751.2 C1247.6 752.1 1269.7 754.2 1277.5 755.3 C1285.3 756.4 1300.5 759.7 1303.5 760.3" fill="none" stroke="#d9a521" stroke-width="4" stroke-linejoin="round"/>
<g fill="none" stroke="#000" stroke-width="1" stroke-linejoin="round">
<path d="M613.6 836 C605.7 838 559.4 849.1 545.6 852.8 C531.8 856.5 503.4 865.9 495 868 C486.6 870.1 483 870.1 474 870.8 C465 871.5 431 873.3 418 874.4 C405 875.5 371.6 878.8 362.8 880 C354.1 881.2 344.6 883.7 343 884.7 C341.4 885.8 347.9 888.3 349 889 C350.1 889.7 351.6 890.3 352 890.5"/>
<path d="M398 902.8 C398.4 902.9 397.7 902.9 401.7 903.6 C405.7 904.3 421.1 908 432 909 C442.9 910 481.7 912 495 912.5 C508.3 913 530.7 912.9 545.6 913.3 C560.5 913.7 612.2 915.6 623 916 C633.8 916.4 636.2 916.4 638 916.5"/>
<path d="M686 918 C686.6 918 684.7 917.8 691 918 C697.3 918.2 724.6 918.9 740 919.4 C755.4 919.9 804.3 921.5 823 922 C841.7 922.5 888 923.5 900 923.6 C912 923.7 923 922.9 926 922.8"/>
<path d="M975 923.6 C975.6 923.6 973.8 923.1 980 923.6 C986.2 924.1 1012.6 926.8 1028 927.8 C1043.4 928.8 1090.5 930.9 1111.7 932 C1132.9 933.1 1197.9 936.8 1210 937.5 C1222.1 938.2 1214.4 937.6 1215 937.6"/>
<path d="M1264 935 C1264.5 935 1264 935.1 1268.6 934.7 C1273.1 934.4 1299 932.3 1303 932"/>
<path d="M267 936.5 C266.5 936.7 268.8 938.8 262.8 938.3 C256.8 937.8 213.7 933 215.6 932 C217.5 931 262.2 930.5 279.4 930 C296.6 929.5 348.3 928.1 362.8 927.8 C377.3 927.4 399.2 927.1 404 927"/>
<path d="M452 927 C452.2 927 449 927 454 927 C459 927 481.1 926.6 495 926.7 C508.9 926.8 553.5 927.2 573 927.8 C592.5 928.4 653.5 930.4 662 932 C670.5 933.6 651.7 939.7 645.6 941.7 C639.5 943.7 614.3 948.4 609.4 949.4 C604.5 950.4 604.6 950.4 604 950.5"/>
<path d="M556 954.8 C555.6 954.8 557 954.9 552.5 955 C548 955.1 525.1 955.8 517.8 955.6 C510.5 955.4 498.4 953.7 490 953 C481.6 952.3 457.6 950.2 446 949.4 C434.4 948.6 405.2 946.5 390.6 945.8 C376 945.1 329.6 943.4 321 943 C312.4 942.6 317.5 942.8 317 942.8"/>
<path d="M89 1056.6 C94.4 1056.9 129.3 1058.6 135.5 1059 C141.7 1059.4 141.2 1059.9 142 1060"/>
<path d="M191 1062.2 C191.6 1062.2 183.2 1062 196.5 1062.3 C209.8 1062.6 283.3 1064.4 305 1065 C326.7 1065.6 368.2 1067.3 382.8 1067.4 C397.4 1067.5 424.5 1065.9 430 1065.7"/>
<path d="M481 1063 C481.8 1062.9 478 1063 487.8 1062.3 C497.6 1061.6 547.8 1057.8 564.7 1056.6 C581.6 1055.4 622.9 1053.6 632.4 1052.2 C641.9 1050.8 640.1 1045.8 646 1044.4 C651.9 1043 675.1 1040.7 683 1040.3 C690.9 1039.9 709.9 1040.9 713.7 1041 C717.6 1041.1 715.7 1041.3 716 1041.3"/>
<path d="M765 1045 C765.5 1045 766.1 1044.6 769.6 1045.4 C773.1 1046.2 781.4 1051 795 1052.2 C808.6 1053.4 865.4 1054.8 886.5 1055.6 C907.6 1056.4 962.4 1058.4 976 1059 C989.6 1059.6 999.9 1060.6 1003 1060.8"/>
<path d="M1053 1063 C1053.5 1063 1042.6 1062.8 1057.3 1063 C1072 1063.2 1150.3 1065 1179 1065 C1207.7 1065 1288.5 1063.6 1303 1063.4"/>
<path d="M89 1116.5 C92 1118.3 111.3 1129.5 115 1131.8 C118.7 1134.1 120.3 1135.5 121 1136"/>
<path d="M157 1165 C157.6 1165.5 157.4 1164.6 162 1169 C166.6 1173.4 185.4 1195.9 196.5 1203 C207.6 1210.1 245.2 1224.4 257.5 1230 C269.8 1235.6 294 1247.7 301.5 1251 C309 1254.3 314.3 1256.6 321.8 1258 C329.3 1259.4 360.3 1262.4 365.9 1263 C371.5 1263.6 369.5 1263.4 370 1263.5"/>
<path d="M419 1264.8 C419.5 1264.8 420.1 1264.5 423.4 1264.6 C426.7 1264.7 441.1 1266 447 1265.6 C452.9 1265.2 466.6 1262.4 474 1261 C481.4 1259.6 502.7 1256.5 510.5 1253.7 C518.3 1250.9 534.3 1241.3 541 1236.8 C547.7 1232.3 562.9 1219.6 568 1214.8 C573.1 1210 581.9 1201.7 585 1196 C588.1 1190.3 593 1170.8 595 1165.7 C597 1160.6 600.8 1154.2 602 1152 C603.2 1149.8 604.6 1147.6 605 1147"/>
<path d="M625.7 1099.6 C626.5 1097.8 630.8 1087 632.4 1084.4 C634 1081.8 633.1 1078.1 639 1077 C644.9 1075.9 669.9 1075.3 683 1074.9 C696.1 1074.5 735.2 1073.6 751 1073.5 C766.8 1073.4 807.7 1073.9 818.8 1074.2 C829.9 1074.5 842.6 1075.7 845.9 1075.9 C849.2 1076.1 846.9 1076 847 1076"/>
<path d="M895 1085.5 C895.6 1085.7 893.9 1084.8 900 1087 C906.1 1089.2 938.2 1100.7 947.5 1104.7 C956.8 1108.7 971.5 1117.2 980 1121.6 C988.5 1126 1008.6 1136.3 1020 1142 C1031.4 1147.7 1067.5 1165.2 1077.6 1170.7 C1087.7 1176.2 1102.9 1187.1 1106.4 1189.4 C1109.9 1191.7 1107.8 1190.4 1108 1190.5"/>
<path d="M1152 1211.5 C1152.6 1211.7 1154 1212 1157 1213 C1160 1214 1172.2 1216.3 1177.6 1220.5 C1183 1224.7 1194.9 1241.9 1203 1248.7 C1211.1 1255.5 1237.9 1272.4 1247 1279 C1256.1 1285.6 1277 1302 1281 1305"/>
<path d="M89 1254.7 C90.5 1255.2 99.8 1258.2 101.6 1258.8 C103.3 1259.4 103.7 1259.7 104 1259.8"/>
<path d="M139 1272 C139.6 1272.2 137.3 1271 144 1274 C150.7 1277 187.2 1294.2 196.5 1297.8 C205.8 1301.4 220.4 1304.2 223.6 1305"/>
<path d="M707 1305 C706.2 1303.4 701.1 1295 700 1291 C698.9 1287 697.7 1275.8 697.8 1270.7 C697.9 1265.6 699.8 1252.3 700.9 1247 C702 1241.7 706.1 1228 707 1225 C707.9 1222 708.8 1221.5 709 1221"/>
<path d="M731 1189 C731.2 1188.7 731.3 1187.9 732.4 1186 C733.5 1184.1 738.2 1175.2 740.8 1172.4 C743.4 1169.6 751.2 1164 754.4 1162.3 C757.6 1160.6 762.5 1158.3 768 1157.9 C773.5 1157.5 793.9 1158.2 801.8 1158.9 C809.7 1159.6 827 1162.4 835.7 1164 C844.4 1165.6 869.3 1170.2 876.4 1172.4 C883.5 1174.6 891.6 1179 896.7 1182.6 C901.8 1186.2 914.9 1198.3 920.4 1203 C925.9 1207.7 940.9 1220.2 944 1223 C947.1 1225.8 946.6 1226.5 947 1227"/>
<path d="M968 1254 C968.6 1254.6 971.5 1257 972.9 1258.8 C974.3 1260.5 978.1 1265.6 980 1269 C981.9 1272.4 987.9 1283.4 989.6 1287.6 C991.3 1291.8 994 1303 994.6 1305"/>
<path d="M749.7 851.4 L765 836.7"/>
<path d="M751 862.5 C753 862.6 763.9 863.3 767.8 863 C771.7 862.7 781.9 862.8 784.4 859.7 C786.9 856.6 788.8 839.4 789.4 836.7"/>
<path d="M989.4 836 C992 836.5 1007.2 839.7 1011.7 840.3 C1016.2 840.9 1020.5 840.7 1028 841 C1035.5 841.3 1060.7 842.6 1075.6 843 C1090.5 843.4 1146.2 844.2 1156 844.4 C1165.8 844.6 1159.5 844.4 1160 844.4"/>
<path d="M1217 841 C1217.5 840.9 1216.2 840.9 1221.4 840.3 C1226.6 839.7 1257 836.5 1261.7 836"/>
<path d="M1217 880.6 C1224.1 880.8 1268.2 881.6 1278 882 C1287.8 882.4 1299.9 883.5 1300.6 884 C1301.3 884.5 1285.9 886.2 1284 886.5"/>
<path d="M1222.8 888 L1232 888"/>
</g>
<g font-family='"Liberation Sans", sans-serif'>
<text x="374" y="907.6" font-size="21" text-anchor="middle" fill="#000" transform="rotate(15 374 900)">4.65</text>
<text x="662" y="926.6" font-size="21" text-anchor="middle" fill="#000" transform="rotate(1 662 919)">4.65</text>
<text x="950.6" y="931.2" font-size="21" text-anchor="middle" fill="#000">4.65</text>
<text x="1239.4" y="945.1" font-size="21" text-anchor="middle" fill="#000">4.65</text>
<text x="1187" y="851.6" font-size="21" text-anchor="middle" fill="#000">4.65</text>
<text x="428" y="935.4" font-size="21" text-anchor="middle" fill="#000">4.55</text>
<text x="292" y="949.3" font-size="21" text-anchor="middle" fill="#000" transform="rotate(5 292 941.7)">4.55</text>
<text x="580" y="960.6" font-size="21" text-anchor="middle" fill="#000" transform="rotate(-3 580 953)">4.55</text>
<text x="166.7" y="1069.9" font-size="21" text-anchor="middle" fill="#000" transform="rotate(3 166.7 1062.3)">4.55</text>
<text x="455.6" y="1072.6" font-size="21" text-anchor="middle" fill="#000" transform="rotate(-5 455.6 1065)">4.55</text>
<text x="740.8" y="1052" font-size="21" text-anchor="middle" fill="#000" transform="rotate(5 740.8 1044.4)">4.55</text>
<text x="1028.5" y="1071" font-size="21" text-anchor="middle" fill="#000" transform="rotate(2 1028.5 1063.4)">4.55</text>
<text x="139" y="1159.6" font-size="21" text-anchor="middle" fill="#000" transform="rotate(38 139 1152)">4.45</text>
<text x="394.6" y="1273.2" font-size="21" text-anchor="middle" fill="#000" transform="rotate(2 394.6 1265.6)">4.45</text>
<text x="615.5" y="1132.6" font-size="21" text-anchor="middle" fill="#000" transform="rotate(-65 615.5 1125)">4.45</text>
<text x="871.3" y="1088.6" font-size="21" text-anchor="middle" fill="#000" transform="rotate(10 871.3 1081)">4.45</text>
<text x="1130" y="1212.2" font-size="21" text-anchor="middle" fill="#000" transform="rotate(22 1130 1204.6)">4.45</text>
<text x="121" y="1274.4" font-size="21" text-anchor="middle" fill="#000" transform="rotate(18 121 1266.8)">4.4</text>
<text x="720.5" y="1213.9" font-size="21" text-anchor="middle" fill="#000" transform="rotate(-60 720.5 1206.3)">4.4</text>
<text x="957.6" y="1249.5" font-size="21" text-anchor="middle" fill="#000" transform="rotate(55 957.6 1241.9)">4.4</text>
<text x="738.6" y="868.6" font-size="21" text-anchor="middle" fill="#000" transform="rotate(80 738.6 861)">4.75</text>
<text x="1259" y="896.6" font-size="21" text-anchor="middle" fill="#000" transform="rotate(2 1259 889)">4.75</text>
</g>
</g>
</g>
<g id="pc">
<clipPath id="clipC"><rect x="90.2" y="1371.1" width="1213.1" height="600.9"/></clipPath>
<g clip-path="url(#clipC)">
<g transform="translate(0.7 667.8)">
<rect x="89.5" y="703.3" width="1213.5" height="132.7" fill="#a9e1fc"/>
<path d="M89 758.3 C92.9 759.3 114.2 766.6 122.5 767.2 C130.8 767.8 154.2 764.1 160 763.3 C165.8 762.5 167 759.7 172.5 760.6 C178 761.5 200.4 769.4 207 770.8 C213.6 772.2 223.6 772.4 229.4 772.2 C235.2 772 250.5 769.4 257 768.9 C263.5 768.4 277.5 768.9 285 768 C292.5 767.1 313.5 761.2 321 761 C328.5 760.8 341.9 764.9 349 766 C356.1 767.1 372.3 770.4 382 770.8 C391.7 771.2 419.4 769.5 432 769.4 C444.6 769.3 478.4 770.6 490 770 C501.6 769.4 522 764.2 531.7 763.9 C541.4 763.6 563.3 766.7 573 767.2 C582.7 767.7 605.2 768.5 615 768 C624.8 767.5 649.2 762.8 656.7 762.5 C664.2 762.2 669.3 765 679 765.3 C688.7 765.6 726.4 765.3 740 765.3 C753.6 765.3 783.6 765.7 795.6 765.3 C807.6 764.9 834.7 762 842.8 761.7 C850.9 761.4 858.9 762.6 865 762.5 C871.1 762.4 888.6 760.5 895 760.6 C901.4 760.7 915.8 763.3 920 763.3 C924.2 763.3 924.2 760.5 931 760.6 C937.8 760.7 968.3 763.4 978 763.9 C987.7 764.4 1008.1 765.1 1014.4 765.3 C1020.7 765.5 1028.9 766 1031.8 765.3 C1034.7 764.6 1035.3 761.1 1039.4 759.7 C1043.5 758.3 1059.6 754.6 1067 753.3 C1074.4 752 1094.2 749.4 1103 748.5 C1111.8 747.6 1132.2 745.6 1142 745.5 C1151.8 745.4 1175.9 747 1187 747.7 C1198.1 748.4 1226.4 750.3 1237 751.2 C1247.6 752.1 1269.7 754.2 1277.5 755.3 C1285.3 756.4 1300.5 759.7 1303.5 760.3 L1304 836 L88.5 836 Z" fill="#f5e7df"/>
</g>
<defs>
<linearGradient id="bgC1" x1="0" y1="1503.5" x2="0" y2="1735" gradientUnits="userSpaceOnUse">
<stop offset="-0.002" stop-color="#ffb000"/>
<stop offset="0.201" stop-color="#ffb400"/>
<stop offset="0.374" stop-color="#ffa600"/>
<stop offset="0.443" stop-color="#ff9a00"/>
<stop offset="0.546" stop-color="#ffa200"/>
<stop offset="0.762" stop-color="#ffa600"/>
<stop offset="1.000" stop-color="#ffa800"/>
</linearGradient>
<linearGradient id="bgC2" x1="0" y1="1735" x2="0" y2="1972" gradientUnits="userSpaceOnUse">
<stop offset="0.000" stop-color="#ff7200"/>
<stop offset="0.046" stop-color="#ff7000"/>
<stop offset="0.274" stop-color="#ff6400"/>
<stop offset="0.612" stop-color="#ff5600"/>
<stop offset="1.000" stop-color="#ff4c00"/>
</linearGradient>
<linearGradient id="bgC3" x1="0" y1="1735" x2="0" y2="1972" gradientUnits="userSpaceOnUse">
<stop offset="0.000" stop-color="#ff5000"/>
<stop offset="0.274" stop-color="#ff4200"/>
<stop offset="0.612" stop-color="#ff3000"/>
<stop offset="1.000" stop-color="#ff1c00"/>
</linearGradient>
<filter id="blC" x="-80%" y="-80%" width="260%" height="260%"><feGaussianBlur stdDeviation="9"/></filter>
<filter id="blC2" x="-80%" y="-80%" width="260%" height="260%"><feGaussianBlur stdDeviation="45"/></filter>
<filter id="blC4" x="-10%" y="-200%" width="120%" height="500%"><feGaussianBlur stdDeviation="14 5"/></filter>
<filter id="blC5" x="-20%" y="-60%" width="140%" height="220%"><feGaussianBlur stdDeviation="30"/></filter>
<filter id="blC3" x="-80%" y="-80%" width="260%" height="260%"><feGaussianBlur stdDeviation="20"/></filter>
<clipPath id="clipC1"><rect x="90.2" y="1503.5" width="1213.1" height="243.5"/></clipPath>
<clipPath id="clipC2"><rect x="90.2" y="1721" width="1213.1" height="251"/></clipPath>
<linearGradient id="mgC1" x1="0" y1="1726" x2="0" y2="1744" gradientUnits="userSpaceOnUse"><stop offset="0" stop-color="#fff"/><stop offset="1" stop-color="#000"/></linearGradient>
<mask id="mC1" maskUnits="userSpaceOnUse" x="0" y="1480" width="1476" height="300"><rect x="0" y="1480" width="1476" height="300" fill="url(#mgC1)"/></mask>
</defs>
<rect x="90.2" y="1721" width="1213.1" height="251" fill="url(#bgC2)"/>
<g clip-path="url(#clipC2)"><g filter="url(#blC5)">
<polygon points="40,1740 90,1755.8 135.5,1777.8 162.6,1796.4 183,1812.7 201.6,1827.6 221.9,1839 250.7,1850.6 271,1864 321.8,1888.5 382.8,1896.3 423.4,1894.6 452,1893 474.3,1887 497,1876 522,1864 564.7,1813.3 591.8,1764 603.6,1743.9 640,1715 900,1715 917,1742 954,1755.8 971,1764 999.7,1774.4 1043.8,1793 1111.5,1816.7 1175.9,1838.7 1213,1860.8 1226.7,1867.5 1245,1873.6 1267,1877.7 1303,1883.8 1350,1890 1350,2020 40,2020" fill="url(#bgC3)"/>
</g></g>
<g mask="url(#mC1)">
<rect x="90.2" y="1503.5" width="1213.1" height="243.5" fill="url(#bgC1)"/>
<g clip-path="url(#clipC1)">
<g filter="url(#blC3)">
<polygon points="480,1480 1340,1480 1340,1650 1030,1632 900,1600 420,1592 250,1565 150,1552 150,1540 300,1530 420,1515" fill="#ffd000" fill-opacity="0.95"/>
<ellipse cx="1190" cy="1670" rx="220" ry="40" fill="#ffbc00" fill-opacity="0.8"/>
<ellipse cx="900" cy="1650" rx="160" ry="48" fill="#ffc600" fill-opacity="0.75"/>
</g>
<g filter="url(#blC4)">
<rect x="200" y="1598" width="540" height="14" fill="#ff8400" fill-opacity="0.9"/>
<rect x="260" y="1658" width="660" height="20" fill="#ffc000" fill-opacity="0.75"/>
<rect x="60" y="1688" width="700" height="10" fill="#ff9400" fill-opacity="0.6"/>
<rect x="60" y="1720" width="1000" height="10" fill="#ffb400" fill-opacity="0.6"/>
</g>
<g filter="url(#blC)">
<polygon points="560,1490 1340,1490 1340,1592 1030,1586 700,1580 560,1576 470,1570 310,1557 310,1543 470,1530 520,1515" fill="#ffff00"/>
</g>
</g>
</g>
<g transform="translate(0.7 667.8)">
<path d="M89 758.3 C92.9 759.3 114.2 766.6 122.5 767.2 C130.8 767.8 154.2 764.1 160 763.3 C165.8 762.5 167 759.7 172.5 760.6 C178 761.5 200.4 769.4 207 770.8 C213.6 772.2 223.6 772.4 229.4 772.2 C235.2 772 250.5 769.4 257 768.9 C263.5 768.4 277.5 768.9 285 768 C292.5 767.1 313.5 761.2 321 761 C328.5 760.8 341.9 764.9 349 766 C356.1 767.1 372.3 770.4 382 770.8 C391.7 771.2 419.4 769.5 432 769.4 C444.6 769.3 478.4 770.6 490 770 C501.6 769.4 522 764.2 531.7 763.9 C541.4 763.6 563.3 766.7 573 767.2 C582.7 767.7 605.2 768.5 615 768 C624.8 767.5 649.2 762.8 656.7 762.5 C664.2 762.2 669.3 765 679 765.3 C688.7 765.6 726.4 765.3 740 765.3 C753.6 765.3 783.6 765.7 795.6 765.3 C807.6 764.9 834.7 762 842.8 761.7 C850.9 761.4 858.9 762.6 865 762.5 C871.1 762.4 888.6 760.5 895 760.6 C901.4 760.7 915.8 763.3 920 763.3 C924.2 763.3 924.2 760.5 931 760.6 C937.8 760.7 968.3 763.4 978 763.9 C987.7 764.4 1008.1 765.1 1014.4 765.3 C1020.7 765.5 1028.9 766 1031.8 765.3 C1034.7 764.6 1035.3 761.1 1039.4 759.7 C1043.5 758.3 1059.6 754.6 1067 753.3 C1074.4 752 1094.2 749.4 1103 748.5 C1111.8 747.6 1132.2 745.6 1142 745.5 C1151.8 745.4 1175.9 747 1187 747.7 C1198.1 748.4 1226.4 750.3 1237 751.2 C1247.6 752.1 1269.7 754.2 1277.5 755.3 C1285.3 756.4 1300.5 759.7 1303.5 760.3" fill="none" stroke="#d9a521" stroke-width="4" stroke-linejoin="round"/>
</g>
<g fill="none" stroke="#000" stroke-width="1" stroke-linejoin="round">
<path d="M679 1504.7 C677.4 1504.7 648.7 1505.4 647 1505.5 C645.3 1505.6 645.1 1506 645 1506"/>
<path d="M601 1513.8 C600 1514.1 584.1 1518.7 581.7 1519.4 C579.3 1520.1 557.1 1526.5 553.9 1527.7 C550.7 1528.9 520.7 1542.1 517.8 1543 C514.9 1543.9 500 1545 495 1545.2 C490 1545.4 424.5 1546 418.3 1546.3 C412.1 1546.6 373.1 1550.9 371 1551.3 C368.9 1551.7 375.8 1553.4 376 1553.5"/>
<path d="M421 1562.4 C423.4 1562.8 465.1 1568.7 468.3 1569.4 C471.5 1570.1 483.7 1575.5 485 1575.8 C486.3 1576.1 490.6 1576.1 495 1576.3 C499.4 1576.5 564.6 1578.7 573 1579 C581.4 1579.3 657.5 1582.2 662 1582.4"/>
<path d="M708 1582.5 C708.1 1582.5 706.4 1582.3 709.4 1582.4 C712.4 1582.5 760.7 1584.5 767.8 1584.7 C774.9 1584.9 844.4 1586 851 1586 C857.6 1586 895.7 1585.3 900 1585.2 C904.3 1585.1 934.2 1583.4 936.7 1583.3 C939.2 1583.2 949.3 1583.5 950 1583.5"/>
<path d="M997.8 1583.8 C999.6 1584 1028.3 1587 1034 1587.4 C1039.7 1587.8 1104.8 1592.1 1111.7 1592.4 C1118.6 1592.7 1166.5 1593.5 1172.8 1593.6 C1179.1 1593.7 1234.7 1594.4 1238 1594.4"/>
<path d="M1285.3 1593.6 L1304 1592.4"/>
<path d="M954.7 1503.6 C955.9 1503.9 975 1509.2 978 1509.7 C981 1510.2 1013.1 1513.4 1015 1513.6"/>
<path d="M1062 1515.2 C1066.2 1515.2 1136.7 1516 1145 1515.8 C1153.3 1515.6 1221 1512.5 1228 1512 C1235 1511.5 1280.2 1505.9 1284 1505.5 C1287.8 1505.1 1303 1503.7 1304 1503.6"/>
<path d="M211.4 1608.3 C209.5 1607.9 174.8 1600.6 174 1600 C173.2 1599.4 192.1 1596.1 196 1595.8 C199.9 1595.5 246 1594.5 251.7 1594.4 C257.3 1594.3 306.1 1593.8 309 1593.8"/>
<path d="M357 1593.7 C358.1 1593.7 372.5 1593.6 379.4 1593.6 C386.3 1593.6 484.1 1593.5 495 1593.6 C505.9 1593.7 591.9 1595.1 597 1595.2"/>
<path d="M646 1598 C647.9 1598.1 684.6 1598.7 684.4 1600 C684.2 1601.3 642.6 1621.6 641.4 1624 C640.2 1626.4 661.4 1646.6 660.8 1648 C660.2 1649.4 634.9 1651.8 628.9 1652 C622.9 1652.2 545.8 1652 541.4 1652"/>
<path d="M494 1648 C493.7 1648 488.8 1647.5 487.8 1647 C486.8 1646.5 476.1 1638.5 474 1637.4 C471.9 1636.3 448.8 1625.8 446 1625 C443.2 1624.2 422.5 1622.2 418.3 1622 C414.1 1621.8 368.4 1620.2 362.8 1620 C357.2 1619.8 312.2 1618.3 307 1618 C301.8 1617.7 260.4 1613.6 258 1613.4"/>
<path d="M90 1716.8 C90.4 1716.9 96.7 1718.8 98 1719 C99.3 1719.2 115.1 1720.7 116 1720.8"/>
<path d="M165 1721.9 C170.3 1722.1 262.3 1725 271 1725.3 C279.7 1725.6 333.2 1727.8 338.8 1728 C344.4 1728.2 379.5 1729.3 382.8 1729.3 C386.1 1729.3 403.9 1728.8 405 1728.8"/>
<path d="M454 1724.6 C455.3 1724.4 475.5 1720.3 480 1720 C484.5 1719.7 541.4 1719 544.4 1717.8 C547.4 1716.6 538.2 1696.9 541 1695.5 C543.8 1694.1 594.9 1690.1 601 1689.7 C607.1 1689.3 660.9 1687 664 1686.9"/>
<path d="M713 1686.9 C715.7 1687 763.4 1687.7 767.8 1688 C772.2 1688.3 797.6 1692.2 801.8 1693 C806 1693.8 847.4 1701.8 852.6 1703 C857.9 1704.2 902.2 1716 906.8 1716.8 C911.4 1717.6 942.1 1719.6 944 1719.8"/>
<path d="M992 1721.9 C996.3 1722.1 1068.2 1725 1077.6 1725.3 C1086.9 1725.6 1171 1727.5 1179 1727.6 C1187 1727.7 1235 1727 1238 1727"/>
<path d="M1286 1728 L1303 1728"/>
<path d="M90 1755.8 C92.3 1756.9 131.9 1775.8 135.5 1777.8 C139.1 1779.8 160.2 1794.7 162.6 1796.4 C165 1798.1 182 1811.9 183 1812.7"/>
<path d="M221.9 1839 C223.3 1839.6 248.2 1849.3 250.7 1850.6 C253.2 1851.8 267.4 1862.1 271 1864 C274.6 1865.9 316.2 1886.9 321.8 1888.5 C327.4 1890.1 377.7 1896 382.8 1896.3 C387.9 1896.6 420 1894.8 423.4 1894.6 C426.8 1894.4 448.7 1893.1 450 1893"/>
<path d="M497 1876 C498.2 1875.4 518.6 1867.1 522 1864 C525.4 1860.9 561.2 1818.3 564.7 1813.3 C568.2 1808.3 589.9 1767.5 591.8 1764 C593.7 1760.5 599.8 1745.1 603.6 1743.9 C607.4 1742.7 664.8 1740.7 668 1740.5"/>
<path d="M717 1738.8 C722.1 1738.8 808.8 1739.3 818.8 1739.5 C828.8 1739.7 910.4 1741.3 917 1742 C923.6 1742.7 948.4 1753.4 950 1754"/>
<path d="M993 1772 C993.3 1772.1 997.2 1773.4 999.7 1774.4 C1002.2 1775.5 1038.2 1790.9 1043.8 1793 C1049.4 1795.1 1104.9 1814.4 1111.5 1816.7 C1118.1 1819 1170.8 1836.5 1175.9 1838.7 C1181 1840.9 1210.6 1859.4 1213 1860.8 C1215.4 1862.2 1223.5 1866.2 1224 1866.5"/>
<path d="M1267 1877.7 L1303 1883.8"/>
</g>
<g font-family='"Liberation Sans", sans-serif'>
<text x="623.9" y="1518.1" font-size="21" text-anchor="middle" fill="#000" transform="rotate(-10 623.9 1510.5)">300</text>
<text x="398.3" y="1567.3" font-size="21" text-anchor="middle" fill="#000" transform="rotate(8 398.3 1559.7)">300</text>
<text x="684.4" y="1591.6" font-size="21" text-anchor="middle" fill="#000" transform="rotate(2 684.4 1584)">300</text>
<text x="974" y="1591.6" font-size="21" text-anchor="middle" fill="#000">300</text>
<text x="1263" y="1602.6" font-size="21" text-anchor="middle" fill="#000">300</text>
<text x="1039" y="1523.4" font-size="21" text-anchor="middle" fill="#000" transform="rotate(2 1039 1515.8)">300</text>
<text x="332.8" y="1602.8" font-size="21" text-anchor="middle" fill="#000" transform="rotate(1 332.8 1595.2)">600</text>
<text x="622" y="1604.6" font-size="21" text-anchor="middle" fill="#000" transform="rotate(3 622 1597)">600</text>
<text x="516.4" y="1658.4" font-size="21" text-anchor="middle" fill="#000" transform="rotate(2 516.4 1650.8)">600</text>
<text x="234.4" y="1618.6" font-size="21" text-anchor="middle" fill="#000" transform="rotate(8 234.4 1611)">600</text>
<text x="140.6" y="1729.5" font-size="21" text-anchor="middle" fill="#000" transform="rotate(2 140.6 1721.9)">600</text>
<text x="429.5" y="1735.2" font-size="21" text-anchor="middle" fill="#000" transform="rotate(-4 429.5 1727.6)">600</text>
<text x="688.6" y="1694.5" font-size="21" text-anchor="middle" fill="#000">600</text>
<text x="967.8" y="1729.6" font-size="21" text-anchor="middle" fill="#000" transform="rotate(2 967.8 1722)">600</text>
<text x="1262" y="1735.6" font-size="21" text-anchor="middle" fill="#000">600</text>
<text x="201.6" y="1835.2" font-size="21" text-anchor="middle" fill="#000" transform="rotate(30 201.6 1827.6)">900</text>
<text x="474.3" y="1894.6" font-size="21" text-anchor="middle" fill="#000" transform="rotate(-15 474.3 1887)">900</text>
<text x="692.7" y="1748.1" font-size="21" text-anchor="middle" fill="#000">900</text>
<text x="971" y="1771.6" font-size="21" text-anchor="middle" fill="#000" transform="rotate(25 971 1764)">900</text>
<text x="1245" y="1881.2" font-size="21" text-anchor="middle" fill="#000" transform="rotate(15 1245 1873.6)">900</text>
</g>
</g>
</g>
<rect x="118.6" y="699.3" width="98.8" height="7.4" fill="#0433ff"/>
<rect x="118.6" y="702.8" width="98.8" height="1" fill="#1a2f8f"/>
<rect x="281.5" y="699.3" width="102.3" height="7.4" fill="#0433ff"/>
<rect x="281.5" y="702.8" width="102.3" height="1" fill="#1a2f8f"/>
<rect x="496" y="699.3" width="112" height="7.4" fill="#0433ff"/>
<rect x="496" y="702.8" width="112" height="1" fill="#1a2f8f"/>
<rect x="1008.2" y="699.3" width="294.8" height="7.4" fill="#0433ff"/>
<rect x="1008.2" y="702.8" width="294.8" height="1" fill="#1a2f8f"/>
<g transform="translate(0.7 667.8)"><rect x="118.6" y="699.3" width="98.8" height="7.4" fill="#0433ff"/>
<rect x="118.6" y="702.8" width="98.8" height="1" fill="#1a2f8f"/>
<rect x="281.5" y="699.3" width="102.3" height="7.4" fill="#0433ff"/>
<rect x="281.5" y="702.8" width="102.3" height="1" fill="#1a2f8f"/>
<rect x="496" y="699.3" width="112" height="7.4" fill="#0433ff"/>
<rect x="496" y="702.8" width="112" height="1" fill="#1a2f8f"/>
<rect x="1008.2" y="699.3" width="294.8" height="7.4" fill="#0433ff"/>
<rect x="1008.2" y="702.8" width="294.8" height="1" fill="#1a2f8f"/></g>
<path d="M233 619.5 L1070 705.5 M651 619.8 L1262 705.3" stroke="#4472c4" stroke-width="0.9" fill="none"/>
<circle cx="219.2" cy="775.6" r="13.9" fill="#262626" fill-opacity="0.9" stroke="#5a5a5a" stroke-width="1"/>
<circle cx="231.7" cy="775.6" r="12.8" fill="#b4b4b4" fill-opacity="0.88" stroke="#555" stroke-width="1.1"/>
<circle cx="355" cy="775.6" r="12.8" fill="#b4b4b4" fill-opacity="0.88" stroke="#555" stroke-width="1.1"/>
<circle cx="427.2" cy="781" r="12.8" fill="#b4b4b4" fill-opacity="0.88" stroke="#555" stroke-width="1.1"/>
<circle cx="426" cy="791.7" r="12.5" fill="#b4b4b4" fill-opacity="0.88" stroke="#555" stroke-width="1.1"/>
<circle cx="454" cy="804.7" r="13.9" fill="#b4b4b4" fill-opacity="0.88" stroke="#555" stroke-width="1.1"/>
<circle cx="479" cy="802" r="12.8" fill="#262626" fill-opacity="0.9" stroke="#5a5a5a" stroke-width="1"/>
<circle cx="351.7" cy="805.6" r="13.9" fill="#262626" fill-opacity="0.9" stroke="#5a5a5a" stroke-width="1"/>
<circle cx="300.3" cy="813.3" r="12.8" fill="#262626" fill-opacity="0.9" stroke="#5a5a5a" stroke-width="1"/>
<circle cx="256.7" cy="822.8" r="13.9" fill="#262626" fill-opacity="0.9" stroke="#5a5a5a" stroke-width="1"/>
<circle cx="237.8" cy="816.7" r="12.5" fill="#b4b4b4" fill-opacity="0.88" stroke="#555" stroke-width="1.1"/>
<circle cx="240" cy="845.3" r="12.8" fill="#262626" fill-opacity="0.9" stroke="#5a5a5a" stroke-width="1"/>
<circle cx="212.8" cy="852.2" r="16" fill="#262626" fill-opacity="0.9" stroke="#5a5a5a" stroke-width="1"/>
<circle cx="211.4" cy="871.7" r="14.4" fill="#262626" fill-opacity="0.9" stroke="#5a5a5a" stroke-width="1"/>
<circle cx="292" cy="900" r="13.9" fill="#262626" fill-opacity="0.9" stroke="#5a5a5a" stroke-width="1"/>
<circle cx="366.4" cy="923.6" r="13.3" fill="#262626" fill-opacity="0.9" stroke="#5a5a5a" stroke-width="1"/>
<circle cx="406.7" cy="917.5" r="12.5" fill="#262626" fill-opacity="0.9" stroke="#5a5a5a" stroke-width="1"/>
<circle cx="438.6" cy="938" r="12.8" fill="#b4b4b4" fill-opacity="0.88" stroke="#555" stroke-width="1.1"/>
<circle cx="178.9" cy="994.4" r="12.8" fill="#262626" fill-opacity="0.9" stroke="#5a5a5a" stroke-width="1"/>
<circle cx="178.9" cy="994.4" r="5.5" fill="#ff0000"/>
<circle cx="363.6" cy="1003.6" r="12.2" fill="#b4b4b4" fill-opacity="0.88" stroke="#555" stroke-width="1.1"/>
<circle cx="363.6" cy="1003.6" r="5.5" fill="#ff0000"/>
<circle cx="508" cy="783.3" r="12.5" fill="#b4b4b4" fill-opacity="0.88" stroke="#555" stroke-width="1.1"/>
<circle cx="522" cy="807" r="13.3" fill="#262626" fill-opacity="0.9" stroke="#5a5a5a" stroke-width="1"/>
<circle cx="522" cy="820.8" r="12.8" fill="#262626" fill-opacity="0.9" stroke="#5a5a5a" stroke-width="1"/>
<circle cx="530.3" cy="809.7" r="12.5" fill="#b4b4b4" fill-opacity="0.88" stroke="#555" stroke-width="1.1"/>
<circle cx="526" cy="832" r="12.8" fill="#b4b4b4" fill-opacity="0.88" stroke="#555" stroke-width="1.1"/>
<circle cx="505.3" cy="864.4" r="13.9" fill="#262626" fill-opacity="0.9" stroke="#5a5a5a" stroke-width="1"/>
<circle cx="630.3" cy="826.4" r="12.8" fill="#262626" fill-opacity="0.9" stroke="#5a5a5a" stroke-width="1"/>
<circle cx="687.2" cy="780.6" r="12.2" fill="#262626" fill-opacity="0.9" stroke="#5a5a5a" stroke-width="1"/>
<circle cx="702.5" cy="784.7" r="12.2" fill="#b4b4b4" fill-opacity="0.88" stroke="#555" stroke-width="1.1"/>
<circle cx="719" cy="827.8" r="12.8" fill="#262626" fill-opacity="0.9" stroke="#5a5a5a" stroke-width="1"/>
<circle cx="706.7" cy="836" r="12.8" fill="#262626" fill-opacity="0.9" stroke="#5a5a5a" stroke-width="1"/>
<circle cx="717.8" cy="838.9" r="13.3" fill="#262626" fill-opacity="0.9" stroke="#5a5a5a" stroke-width="1"/>
<circle cx="701" cy="847" r="12.5" fill="#262626" fill-opacity="0.9" stroke="#5a5a5a" stroke-width="1"/>
<circle cx="719" cy="873.6" r="12.8" fill="#262626" fill-opacity="0.9" stroke="#5a5a5a" stroke-width="1"/>
<circle cx="701.7" cy="813.3" r="12.8" fill="#b4b4b4" fill-opacity="0.88" stroke="#555" stroke-width="1.1"/>
<circle cx="685.8" cy="828.3" r="12.5" fill="#b4b4b4" fill-opacity="0.88" stroke="#555" stroke-width="1.1"/>
<circle cx="734.4" cy="824.4" r="12" fill="#b4b4b4" fill-opacity="0.88" stroke="#555" stroke-width="1.1"/>
<circle cx="756.7" cy="823.6" r="12.8" fill="#262626" fill-opacity="0.9" stroke="#5a5a5a" stroke-width="1"/>
<circle cx="709.4" cy="851.4" r="12.2" fill="#b4b4b4" fill-opacity="0.88" stroke="#555" stroke-width="1.1"/>
<circle cx="726" cy="859.7" r="12.2" fill="#b4b4b4" fill-opacity="0.88" stroke="#555" stroke-width="1.1"/>
<circle cx="704.7" cy="876.4" r="12.2" fill="#b4b4b4" fill-opacity="0.88" stroke="#555" stroke-width="1.1"/>
<circle cx="790" cy="802.8" r="15.6" fill="#262626" fill-opacity="0.9" stroke="#5a5a5a" stroke-width="1"/>
<circle cx="842" cy="792" r="13.9" fill="#262626" fill-opacity="0.9" stroke="#5a5a5a" stroke-width="1"/>
<circle cx="629" cy="927" r="12.8" fill="#262626" fill-opacity="0.9" stroke="#5a5a5a" stroke-width="1"/>
<circle cx="733.9" cy="933.9" r="14.4" fill="#262626" fill-opacity="0.9" stroke="#5a5a5a" stroke-width="1"/>
<circle cx="717.8" cy="923.6" r="13.9" fill="#262626" fill-opacity="0.9" stroke="#5a5a5a" stroke-width="1"/>
<circle cx="708" cy="915.8" r="13.3" fill="#262626" fill-opacity="0.9" stroke="#5a5a5a" stroke-width="1"/>
<circle cx="521" cy="1011.7" r="14.7" fill="#262626" fill-opacity="0.9" stroke="#5a5a5a" stroke-width="1"/>
<circle cx="521" cy="1011.7" r="5.5" fill="#ff0000"/>
<circle cx="637.8" cy="1000.6" r="13.9" fill="#262626" fill-opacity="0.9" stroke="#5a5a5a" stroke-width="1"/>
<circle cx="637.8" cy="1000.6" r="5.5" fill="#ff0000"/>
<circle cx="949.7" cy="775.6" r="13.3" fill="#262626" fill-opacity="0.9" stroke="#5a5a5a" stroke-width="1"/>
<circle cx="1032.5" cy="775.6" r="12.5" fill="#262626" fill-opacity="0.9" stroke="#5a5a5a" stroke-width="1"/>
<circle cx="1046.4" cy="776.4" r="13.3" fill="#b4b4b4" fill-opacity="0.88" stroke="#555" stroke-width="1.1"/>
<circle cx="1061.7" cy="779" r="12.5" fill="#b4b4b4" fill-opacity="0.88" stroke="#555" stroke-width="1.1"/>
<circle cx="1103.3" cy="809.7" r="12.5" fill="#b4b4b4" fill-opacity="0.88" stroke="#555" stroke-width="1.1"/>
<circle cx="1098.6" cy="805" r="12.5" fill="#b4b4b4" fill-opacity="0.88" stroke="#555" stroke-width="1.1"/>
<circle cx="1118.6" cy="836.7" r="13.9" fill="#262626" fill-opacity="0.9" stroke="#5a5a5a" stroke-width="1"/>
<circle cx="1088" cy="850" r="13.3" fill="#262626" fill-opacity="0.9" stroke="#5a5a5a" stroke-width="1"/>
<circle cx="925" cy="849.4" r="15.3" fill="#262626" fill-opacity="0.9" stroke="#5a5a5a" stroke-width="1"/>
<circle cx="944" cy="868" r="12.2" fill="#b4b4b4" fill-opacity="0.88" stroke="#555" stroke-width="1.1"/>
<circle cx="940.8" cy="900" r="16" fill="#262626" fill-opacity="0.9" stroke="#5a5a5a" stroke-width="1"/>
<circle cx="922" cy="901.4" r="12.5" fill="#b4b4b4" fill-opacity="0.88" stroke="#555" stroke-width="1.1"/>
<circle cx="1175.6" cy="787.5" r="12.8" fill="#b4b4b4" fill-opacity="0.88" stroke="#555" stroke-width="1.1"/>
<circle cx="1172" cy="821.4" r="12.8" fill="#b4b4b4" fill-opacity="0.88" stroke="#555" stroke-width="1.1"/>
<circle cx="1220.8" cy="775" r="15.3" fill="#262626" fill-opacity="0.9" stroke="#5a5a5a" stroke-width="1"/>
<circle cx="1237" cy="775.6" r="13.3" fill="#262626" fill-opacity="0.9" stroke="#5a5a5a" stroke-width="1"/>
<circle cx="1215" cy="797.8" r="13.9" fill="#262626" fill-opacity="0.9" stroke="#5a5a5a" stroke-width="1"/>
<circle cx="1250.6" cy="810.6" r="12.5" fill="#262626" fill-opacity="0.9" stroke="#5a5a5a" stroke-width="1"/>
<circle cx="1237" cy="823.6" r="13.9" fill="#262626" fill-opacity="0.9" stroke="#5a5a5a" stroke-width="1"/>
<circle cx="1240" cy="804" r="12.8" fill="#b4b4b4" fill-opacity="0.88" stroke="#555" stroke-width="1.1"/>
<circle cx="1214.4" cy="829" r="12.5" fill="#b4b4b4" fill-opacity="0.88" stroke="#555" stroke-width="1.1"/>
<circle cx="1206.7" cy="839.4" r="12.5" fill="#b4b4b4" fill-opacity="0.88" stroke="#555" stroke-width="1.1"/>
<circle cx="1295" cy="775.6" r="13.3" fill="#262626" fill-opacity="0.9" stroke="#5a5a5a" stroke-width="1"/>
<circle cx="1286.7" cy="800" r="15.3" fill="#b4b4b4" fill-opacity="0.88" stroke="#555" stroke-width="1.1"/>
<circle cx="1287" cy="842" r="13.9" fill="#262626" fill-opacity="0.9" stroke="#5a5a5a" stroke-width="1"/>
<circle cx="1287" cy="842" r="5.5" fill="#ff0000"/>
<circle cx="1290.8" cy="866.7" r="13.3" fill="#262626" fill-opacity="0.9" stroke="#5a5a5a" stroke-width="1"/>
<circle cx="1290.8" cy="866.7" r="5.5" fill="#ff0000"/>
<circle cx="1163" cy="876.4" r="13.9" fill="#262626" fill-opacity="0.9" stroke="#5a5a5a" stroke-width="1"/>
<circle cx="1136.7" cy="894.4" r="12.2" fill="#b4b4b4" fill-opacity="0.88" stroke="#555" stroke-width="1.1"/>
<circle cx="1209" cy="889.4" r="12.2" fill="#b4b4b4" fill-opacity="0.88" stroke="#555" stroke-width="1.1"/>
<circle cx="1209" cy="889.4" r="5.5" fill="#ff0000"/>
<circle cx="1077" cy="931" r="11.7" fill="#262626" fill-opacity="0.9" stroke="#5a5a5a" stroke-width="1"/>
<circle cx="1077" cy="931" r="5.5" fill="#ff0000"/>
<circle cx="1095.6" cy="931" r="13.9" fill="#262626" fill-opacity="0.9" stroke="#5a5a5a" stroke-width="1"/>
<circle cx="1095.6" cy="931" r="5.5" fill="#ff0000"/>
<circle cx="1157.5" cy="1007.5" r="12.2" fill="#262626" fill-opacity="0.9" stroke="#5a5a5a" stroke-width="1"/>
<circle cx="1157.5" cy="1007.5" r="5.5" fill="#ff0000"/>
<circle cx="1282.5" cy="993.9" r="12.8" fill="#262626" fill-opacity="0.9" stroke="#5a5a5a" stroke-width="1"/>
<circle cx="1282.5" cy="993.9" r="5.5" fill="#ff0000"/>
<circle cx="1289" cy="1012" r="11.7" fill="#262626" fill-opacity="0.9" stroke="#5a5a5a" stroke-width="1"/>
<circle cx="1289" cy="1012" r="5.5" fill="#ff0000"/>
<g transform="translate(0.7 667.8)"><circle cx="219.2" cy="775.6" r="13.9" fill="#262626" fill-opacity="0.9" stroke="#5a5a5a" stroke-width="1"/>
<circle cx="231.7" cy="775.6" r="12.8" fill="#b4b4b4" fill-opacity="0.88" stroke="#555" stroke-width="1.1"/>
<circle cx="355" cy="775.6" r="12.8" fill="#b4b4b4" fill-opacity="0.88" stroke="#555" stroke-width="1.1"/>
<circle cx="427.2" cy="781" r="12.8" fill="#b4b4b4" fill-opacity="0.88" stroke="#555" stroke-width="1.1"/>
<circle cx="426" cy="791.7" r="12.5" fill="#b4b4b4" fill-opacity="0.88" stroke="#555" stroke-width="1.1"/>
<circle cx="454" cy="804.7" r="13.9" fill="#b4b4b4" fill-opacity="0.88" stroke="#555" stroke-width="1.1"/>
<circle cx="479" cy="802" r="12.8" fill="#262626" fill-opacity="0.9" stroke="#5a5a5a" stroke-width="1"/>
<circle cx="351.7" cy="805.6" r="13.9" fill="#262626" fill-opacity="0.9" stroke="#5a5a5a" stroke-width="1"/>
<circle cx="300.3" cy="813.3" r="12.8" fill="#262626" fill-opacity="0.9" stroke="#5a5a5a" stroke-width="1"/>
<circle cx="256.7" cy="822.8" r="13.9" fill="#262626" fill-opacity="0.9" stroke="#5a5a5a" stroke-width="1"/>
<circle cx="237.8" cy="816.7" r="12.5" fill="#b4b4b4" fill-opacity="0.88" stroke="#555" stroke-width="1.1"/>
<circle cx="240" cy="845.3" r="12.8" fill="#262626" fill-opacity="0.9" stroke="#5a5a5a" stroke-width="1"/>
<circle cx="212.8" cy="852.2" r="16" fill="#262626" fill-opacity="0.9" stroke="#5a5a5a" stroke-width="1"/>
<circle cx="211.4" cy="871.7" r="14.4" fill="#262626" fill-opacity="0.9" stroke="#5a5a5a" stroke-width="1"/>
<circle cx="292" cy="900" r="13.9" fill="#262626" fill-opacity="0.9" stroke="#5a5a5a" stroke-width="1"/>
<circle cx="366.4" cy="923.6" r="13.3" fill="#262626" fill-opacity="0.9" stroke="#5a5a5a" stroke-width="1"/>
<circle cx="406.7" cy="917.5" r="12.5" fill="#262626" fill-opacity="0.9" stroke="#5a5a5a" stroke-width="1"/>
<circle cx="438.6" cy="938" r="12.8" fill="#b4b4b4" fill-opacity="0.88" stroke="#555" stroke-width="1.1"/>
<circle cx="178.9" cy="994.4" r="12.8" fill="#262626" fill-opacity="0.9" stroke="#5a5a5a" stroke-width="1"/>
<circle cx="178.9" cy="994.4" r="5.5" fill="#ff0000"/>
<circle cx="363.6" cy="1003.6" r="12.2" fill="#b4b4b4" fill-opacity="0.88" stroke="#555" stroke-width="1.1"/>
<circle cx="363.6" cy="1003.6" r="5.5" fill="#ff0000"/>
<circle cx="508" cy="783.3" r="12.5" fill="#b4b4b4" fill-opacity="0.88" stroke="#555" stroke-width="1.1"/>
<circle cx="522" cy="807" r="13.3" fill="#262626" fill-opacity="0.9" stroke="#5a5a5a" stroke-width="1"/>
<circle cx="522" cy="820.8" r="12.8" fill="#262626" fill-opacity="0.9" stroke="#5a5a5a" stroke-width="1"/>
<circle cx="530.3" cy="809.7" r="12.5" fill="#b4b4b4" fill-opacity="0.88" stroke="#555" stroke-width="1.1"/>
<circle cx="526" cy="832" r="12.8" fill="#b4b4b4" fill-opacity="0.88" stroke="#555" stroke-width="1.1"/>
<circle cx="505.3" cy="864.4" r="13.9" fill="#262626" fill-opacity="0.9" stroke="#5a5a5a" stroke-width="1"/>
<circle cx="630.3" cy="826.4" r="12.8" fill="#262626" fill-opacity="0.9" stroke="#5a5a5a" stroke-width="1"/>
<circle cx="687.2" cy="780.6" r="12.2" fill="#262626" fill-opacity="0.9" stroke="#5a5a5a" stroke-width="1"/>
<circle cx="702.5" cy="784.7" r="12.2" fill="#b4b4b4" fill-opacity="0.88" stroke="#555" stroke-width="1.1"/>
<circle cx="719" cy="827.8" r="12.8" fill="#262626" fill-opacity="0.9" stroke="#5a5a5a" stroke-width="1"/>
<circle cx="706.7" cy="836" r="12.8" fill="#262626" fill-opacity="0.9" stroke="#5a5a5a" stroke-width="1"/>
<circle cx="717.8" cy="838.9" r="13.3" fill="#262626" fill-opacity="0.9" stroke="#5a5a5a" stroke-width="1"/>
<circle cx="701" cy="847" r="12.5" fill="#262626" fill-opacity="0.9" stroke="#5a5a5a" stroke-width="1"/>
<circle cx="719" cy="873.6" r="12.8" fill="#262626" fill-opacity="0.9" stroke="#5a5a5a" stroke-width="1"/>
<circle cx="701.7" cy="813.3" r="12.8" fill="#b4b4b4" fill-opacity="0.88" stroke="#555" stroke-width="1.1"/>
<circle cx="685.8" cy="828.3" r="12.5" fill="#b4b4b4" fill-opacity="0.88" stroke="#555" stroke-width="1.1"/>
<circle cx="734.4" cy="824.4" r="12" fill="#b4b4b4" fill-opacity="0.88" stroke="#555" stroke-width="1.1"/>
<circle cx="756.7" cy="823.6" r="12.8" fill="#262626" fill-opacity="0.9" stroke="#5a5a5a" stroke-width="1"/>
<circle cx="709.4" cy="851.4" r="12.2" fill="#b4b4b4" fill-opacity="0.88" stroke="#555" stroke-width="1.1"/>
<circle cx="726" cy="859.7" r="12.2" fill="#b4b4b4" fill-opacity="0.88" stroke="#555" stroke-width="1.1"/>
<circle cx="704.7" cy="876.4" r="12.2" fill="#b4b4b4" fill-opacity="0.88" stroke="#555" stroke-width="1.1"/>
<circle cx="790" cy="802.8" r="15.6" fill="#262626" fill-opacity="0.9" stroke="#5a5a5a" stroke-width="1"/>
<circle cx="842" cy="792" r="13.9" fill="#262626" fill-opacity="0.9" stroke="#5a5a5a" stroke-width="1"/>
<circle cx="629" cy="927" r="12.8" fill="#262626" fill-opacity="0.9" stroke="#5a5a5a" stroke-width="1"/>
<circle cx="733.9" cy="933.9" r="14.4" fill="#262626" fill-opacity="0.9" stroke="#5a5a5a" stroke-width="1"/>
<circle cx="717.8" cy="923.6" r="13.9" fill="#262626" fill-opacity="0.9" stroke="#5a5a5a" stroke-width="1"/>
<circle cx="708" cy="915.8" r="13.3" fill="#262626" fill-opacity="0.9" stroke="#5a5a5a" stroke-width="1"/>
<circle cx="521" cy="1011.7" r="14.7" fill="#262626" fill-opacity="0.9" stroke="#5a5a5a" stroke-width="1"/>
<circle cx="521" cy="1011.7" r="5.5" fill="#ff0000"/>
<circle cx="637.8" cy="1000.6" r="13.9" fill="#262626" fill-opacity="0.9" stroke="#5a5a5a" stroke-width="1"/>
<circle cx="637.8" cy="1000.6" r="5.5" fill="#ff0000"/>
<circle cx="949.7" cy="775.6" r="13.3" fill="#262626" fill-opacity="0.9" stroke="#5a5a5a" stroke-width="1"/>
<circle cx="1032.5" cy="775.6" r="12.5" fill="#262626" fill-opacity="0.9" stroke="#5a5a5a" stroke-width="1"/>
<circle cx="1046.4" cy="776.4" r="13.3" fill="#b4b4b4" fill-opacity="0.88" stroke="#555" stroke-width="1.1"/>
<circle cx="1061.7" cy="779" r="12.5" fill="#b4b4b4" fill-opacity="0.88" stroke="#555" stroke-width="1.1"/>
<circle cx="1103.3" cy="809.7" r="12.5" fill="#b4b4b4" fill-opacity="0.88" stroke="#555" stroke-width="1.1"/>
<circle cx="1098.6" cy="805" r="12.5" fill="#b4b4b4" fill-opacity="0.88" stroke="#555" stroke-width="1.1"/>
<circle cx="1118.6" cy="836.7" r="13.9" fill="#262626" fill-opacity="0.9" stroke="#5a5a5a" stroke-width="1"/>
<circle cx="1088" cy="850" r="13.3" fill="#262626" fill-opacity="0.9" stroke="#5a5a5a" stroke-width="1"/>
<circle cx="925" cy="849.4" r="15.3" fill="#262626" fill-opacity="0.9" stroke="#5a5a5a" stroke-width="1"/>
<circle cx="944" cy="868" r="12.2" fill="#b4b4b4" fill-opacity="0.88" stroke="#555" stroke-width="1.1"/>
<circle cx="940.8" cy="900" r="16" fill="#262626" fill-opacity="0.9" stroke="#5a5a5a" stroke-width="1"/>
<circle cx="922" cy="901.4" r="12.5" fill="#b4b4b4" fill-opacity="0.88" stroke="#555" stroke-width="1.1"/>
<circle cx="1175.6" cy="787.5" r="12.8" fill="#b4b4b4" fill-opacity="0.88" stroke="#555" stroke-width="1.1"/>
<circle cx="1172" cy="821.4" r="12.8" fill="#b4b4b4" fill-opacity="0.88" stroke="#555" stroke-width="1.1"/>
<circle cx="1220.8" cy="775" r="15.3" fill="#262626" fill-opacity="0.9" stroke="#5a5a5a" stroke-width="1"/>
<circle cx="1237" cy="775.6" r="13.3" fill="#262626" fill-opacity="0.9" stroke="#5a5a5a" stroke-width="1"/>
<circle cx="1215" cy="797.8" r="13.9" fill="#262626" fill-opacity="0.9" stroke="#5a5a5a" stroke-width="1"/>
<circle cx="1250.6" cy="810.6" r="12.5" fill="#262626" fill-opacity="0.9" stroke="#5a5a5a" stroke-width="1"/>
<circle cx="1237" cy="823.6" r="13.9" fill="#262626" fill-opacity="0.9" stroke="#5a5a5a" stroke-width="1"/>
<circle cx="1240" cy="804" r="12.8" fill="#b4b4b4" fill-opacity="0.88" stroke="#555" stroke-width="1.1"/>
<circle cx="1214.4" cy="829" r="12.5" fill="#b4b4b4" fill-opacity="0.88" stroke="#555" stroke-width="1.1"/>
<circle cx="1206.7" cy="839.4" r="12.5" fill="#b4b4b4" fill-opacity="0.88" stroke="#555" stroke-width="1.1"/>
<circle cx="1295" cy="775.6" r="13.3" fill="#262626" fill-opacity="0.9" stroke="#5a5a5a" stroke-width="1"/>
<circle cx="1286.7" cy="800" r="15.3" fill="#b4b4b4" fill-opacity="0.88" stroke="#555" stroke-width="1.1"/>
<circle cx="1287" cy="842" r="13.9" fill="#262626" fill-opacity="0.9" stroke="#5a5a5a" stroke-width="1"/>
<circle cx="1287" cy="842" r="5.5" fill="#ff0000"/>
<circle cx="1290.8" cy="866.7" r="13.3" fill="#262626" fill-opacity="0.9" stroke="#5a5a5a" stroke-width="1"/>
<circle cx="1290.8" cy="866.7" r="5.5" fill="#ff0000"/>
<circle cx="1163" cy="876.4" r="13.9" fill="#262626" fill-opacity="0.9" stroke="#5a5a5a" stroke-width="1"/>
<circle cx="1136.7" cy="894.4" r="12.2" fill="#b4b4b4" fill-opacity="0.88" stroke="#555" stroke-width="1.1"/>
<circle cx="1209" cy="889.4" r="12.2" fill="#b4b4b4" fill-opacity="0.88" stroke="#555" stroke-width="1.1"/>
<circle cx="1209" cy="889.4" r="5.5" fill="#ff0000"/>
<circle cx="1077" cy="931" r="11.7" fill="#262626" fill-opacity="0.9" stroke="#5a5a5a" stroke-width="1"/>
<circle cx="1077" cy="931" r="5.5" fill="#ff0000"/>
<circle cx="1095.6" cy="931" r="13.9" fill="#262626" fill-opacity="0.9" stroke="#5a5a5a" stroke-width="1"/>
<circle cx="1095.6" cy="931" r="5.5" fill="#ff0000"/>
<circle cx="1157.5" cy="1007.5" r="12.2" fill="#262626" fill-opacity="0.9" stroke="#5a5a5a" stroke-width="1"/>
<circle cx="1157.5" cy="1007.5" r="5.5" fill="#ff0000"/>
<circle cx="1282.5" cy="993.9" r="12.8" fill="#262626" fill-opacity="0.9" stroke="#5a5a5a" stroke-width="1"/>
<circle cx="1282.5" cy="993.9" r="5.5" fill="#ff0000"/>
<circle cx="1289" cy="1012" r="11.7" fill="#262626" fill-opacity="0.9" stroke="#5a5a5a" stroke-width="1"/>
<circle cx="1289" cy="1012" r="5.5" fill="#ff0000"/></g>
<rect x="298.9" y="703.3" width="177.2" height="1269" fill="#000" fill-opacity="0.2"/>
<rect x="749.7" y="703.3" width="272.3" height="1269" fill="#000" fill-opacity="0.2"/>
<rect x="1030" y="706" width="273.5" height="382" rx="45" ry="45" fill="#8a66b4" fill-opacity="0.21" stroke="#000" stroke-width="1.6"/>
<g clip-path="url(#clipB)">
<g fill="none" stroke="#0000ee" stroke-width="4.6" stroke-dasharray="15 15.5">
<path d="M89 793 C99.9 796.6 131.9 808.6 154.4 814.4 C176.9 820.2 199.9 824.1 224 827.8 C248.1 831.5 275.9 834.5 299 836.7 C322.1 838.9 340.6 839.6 362.8 841 C385 842.4 410 843.9 432 845 C454 846.1 466.8 847 495 847.8 C523.2 848.6 564.8 849.5 601 850 C637.2 850.5 679.6 850.7 712 850.6 C744.4 850.5 765.1 850 795.6 849.4 C826.1 848.8 866.9 848.1 895 847 C923.1 845.9 942.2 844.3 964.4 843 C986.6 841.7 1015.4 840.1 1028 839.4 C1040.6 838.6 1038 838.6 1040 838.5"/>
<path d="M1066 835 C1068 834.7 1064.8 834.7 1078 833.3 C1091.2 831.9 1124.6 829.2 1145 826.4 C1165.4 823.6 1184.4 819.7 1200.6 816.7 C1216.8 813.7 1229.1 811.6 1242 808.3 C1254.9 805 1269.2 800.5 1278 797 C1286.8 793.5 1290.8 789.8 1295 787.5 C1299.2 785.2 1301.7 784.2 1303 783.5"/>
<path d="M89 823.6 C90.2 826 93 833.6 96 838 C99 842.4 101 845.2 107 850 C113 854.8 121.8 861.5 132 866.7 C142.2 871.9 155 876.1 168 881 C181 885.9 196.1 891.3 210 895.8 C223.9 900.3 237.9 904.4 251.7 907.8 C265.5 911.2 279.1 913.6 293 916 C306.9 918.4 318.7 919.6 335 922 C351.3 924.4 372.1 928.3 390.6 930.6 C409.1 932.9 428.6 934.1 446 935.6 C463.4 937.1 473.8 938.3 495 939.4 C516.2 940.5 546 941.4 573 942.2 C600 943 628.9 944.1 656.7 944.4 C684.5 944.7 712.3 944.3 740 943.9 C767.7 943.5 797.2 942.6 823 941.7 C848.8 940.8 871.4 940.1 895 938.3 C918.6 936.4 942.2 932.9 964.4 930.6 C986.6 928.3 1012.1 926.7 1028 924.4 C1043.9 922.1 1054.7 918.2 1060 917"/>
<path d="M1085 913 C1086.7 912.7 1085 912.9 1095 911 C1105 909.1 1129.7 905.3 1145 901.4 C1160.3 897.5 1172.9 892.4 1186.7 887.5 C1200.5 882.6 1216.5 876.9 1228 872 C1239.5 867.1 1247.7 863.5 1256 858 C1264.3 852.5 1272.4 845 1278 839 C1283.6 833 1285.2 826.3 1289.4 822 C1293.6 817.7 1300.7 814.5 1303 813"/>
<path d="M89 949.4 C90.7 949.6 93.7 948.2 99 950.6 C104.3 953 111.8 958.9 121 963.9 C130.2 968.9 141.9 975.3 154.4 980.6 C166.9 985.9 182.1 990.9 196 995.8 C209.9 1000.6 223.9 1005.5 237.8 1009.7 C251.7 1013.9 262.6 1016.9 279.4 1020.8 C296.2 1024.7 314.8 1028.8 338.8 1032.9 C362.8 1037 396.5 1042 423.4 1045.4 C450.3 1048.8 479.3 1051.3 500 1053.2 C520.7 1055.1 522.9 1055.5 547.8 1056.6 C572.7 1057.7 615.5 1059.4 649.4 1060 C683.3 1060.6 717.1 1060.8 751 1060 C784.9 1059.2 824.4 1056.6 852.6 1054.9 C880.8 1053.2 899.2 1051.8 920.4 1049.8 C941.6 1047.8 960.1 1046.3 980 1043 C999.9 1039.7 1028.3 1032.6 1040 1030 C1051.7 1027.4 1048.3 1027.9 1050 1027.5"/>
<path d="M1078 1022.5 C1079.9 1022.2 1078.2 1023.4 1089.4 1020.8 C1100.6 1018.2 1126.5 1012.5 1145 1007 C1163.5 1001.5 1184.4 993.8 1200.6 987.5 C1216.8 981.2 1230.9 974.7 1242 969.4 C1253.1 964.1 1259.1 958.9 1267 955.6 C1274.9 952.3 1283.4 950.2 1289.4 949.4 C1295.4 948.6 1300.7 950.4 1303 950.6"/>
<path d="M89 1291 C99.6 1288.5 127.7 1281.2 152.4 1275.8 C177.1 1270.4 212.2 1262.9 237 1258.8 C261.9 1254.7 278.9 1252.6 301.5 1251 C324.1 1249.4 339.5 1249.4 372.6 1249.3 C405.7 1249.2 453.9 1249.8 500 1250.4 C546.1 1251 601.9 1252.7 649.4 1253 C696.9 1253.3 745.4 1252.4 784.9 1252 C824.4 1251.6 854 1251 886.5 1250.4 C919 1249.9 956.1 1248.9 980 1248.7 C1003.9 1248.5 1021.7 1249.4 1030 1249.5"/>
<path d="M1074 1251.5 C1075.2 1251.6 1069.1 1250.4 1081 1252 C1092.9 1253.6 1123.4 1257.3 1145.4 1261 C1167.4 1264.7 1186.7 1268.5 1213 1274 C1239.3 1279.5 1288 1290.4 1303 1293.7"/>
</g>
<g transform="translate(1052.2 834) rotate(0)"><rect x="-17.8" y="-13.9" width="35.6" height="27.8" fill="#0000ff"/><text x="0" y="7.4" font-size="20.6" font-weight="bold" fill="#fff" text-anchor="middle" font-family='"Liberation Sans", sans-serif'>300</text></g>
<g transform="translate(1071.4 908.3) rotate(-14)"><rect x="-18.5" y="-13.5" width="37" height="27" fill="#0000ff"/><text x="0" y="7.4" font-size="20.6" font-weight="bold" fill="#fff" text-anchor="middle" font-family='"Liberation Sans", sans-serif'>600</text></g>
<g transform="translate(1063 1024.5) rotate(-15)"><rect x="-18.5" y="-13.5" width="37" height="27" fill="#0000ff"/><text x="0" y="7.4" font-size="20.6" font-weight="bold" fill="#fff" text-anchor="middle" font-family='"Liberation Sans", sans-serif'>900</text></g>
<g transform="translate(1052 1249.5) rotate(0)"><rect x="-24.1" y="-14.5" width="48.2" height="29" fill="#0000ff"/><text x="0" y="7.4" font-size="20.6" font-weight="bold" fill="#fff" text-anchor="middle" font-family='"Liberation Sans", sans-serif'>1200</text></g>
</g>
<rect x="89.5" y="703.3" width="1213.5" height="602" fill="none" stroke="#2a2a2a" stroke-width="1.1"/>
<path d="M249.7 1305.3 v-12 M249.7 703.3 v12 M478.3 1305.3 v-12 M478.3 703.3 v12 M707.3 1305.3 v-12 M707.3 703.3 v12 M936 1305.3 v-12 M936 703.3 v12 M1164.5 1305.3 v-12 M1164.5 703.3 v12 M89.5 823.8 h12 M1303 823.8 h-12 M89.5 944.3 h12 M1303 944.3 h-12 M89.5 1064.6 h12 M1303 1064.6 h-12 M89.5 1185 h12 M1303 1185 h-12" stroke="#2a2a2a" stroke-width="1.1" fill="none"/>
<g font-family='"Liberation Sans", sans-serif'>
<text x="79.3" y="715.5" font-size="28" text-anchor="end" fill="#262626">0</text>
<text x="79.3" y="836.5" font-size="28" text-anchor="end" fill="#262626">10</text>
<text x="79.3" y="956.5" font-size="28" text-anchor="end" fill="#262626">20</text>
<text x="79.3" y="1076" font-size="28" text-anchor="end" fill="#262626">30</text>
<text x="79.3" y="1197" font-size="28" text-anchor="end" fill="#262626">40</text>
<text x="79.3" y="1318" font-size="28" text-anchor="end" fill="#262626">50</text>
<text x="36.4" y="1003" font-size="30.5" text-anchor="middle" fill="#262626" transform="rotate(-90 36.4 1003)">Depth km</text>
</g>
<g stroke-linecap="round"><line x1="23.7" y1="1216.5" x2="23.7" y2="1252.7" stroke="#000" stroke-width="5"/><circle cx="23.7" cy="1216.5" r="6.8" fill="#000"/><circle cx="23.7" cy="1252.7" r="6.8" fill="#000"/><line x1="42" y1="1216.5" x2="42" y2="1287.6" stroke="#b0adad" stroke-width="4.6"/><circle cx="42" cy="1216.5" r="6.8" fill="#b0adad"/><circle cx="42" cy="1287.6" r="6.8" fill="#b0adad"/></g>
<defs><linearGradient id="cbB" x1="0" y1="0" x2="0" y2="1"><stop offset="0" stop-color="#008066"/><stop offset="0.2" stop-color="#008066"/><stop offset="1" stop-color="#ffff66"/></linearGradient></defs>
<rect x="1325" y="694.7" width="39" height="618.3" fill="url(#cbB)" stroke="#2a2a2a" stroke-width="1.1"/>
<g font-family='"Liberation Sans", sans-serif'>
<text x="1372.3" y="705.3" font-size="25.4" text-anchor="start" fill="#262626">4.8</text>
<text x="1372.3" y="829" font-size="25.4" text-anchor="start" fill="#262626">4.7</text>
<text x="1372.3" y="952.6" font-size="25.4" text-anchor="start" fill="#262626">4.6</text>
<text x="1372.3" y="1076.3" font-size="25.4" text-anchor="start" fill="#262626">4.5</text>
<text x="1372.3" y="1199.9" font-size="25.4" text-anchor="start" fill="#262626">4.4</text>
<text x="1372.3" y="1323.6" font-size="25.4" text-anchor="start" fill="#262626">4.3</text>
<text x="1440.4" y="1004.5" font-size="25" text-anchor="middle" fill="#262626" transform="rotate(-90 1440.4 1004.5)">Vs (km/s)</text>
</g>
<path d="M1364 818.4 h-7 M1364 942 h-7 M1364 1065.7 h-7 M1364 1189.3 h-7" stroke="#2a2a2a" stroke-width="1.1" fill="none"/>
<text x="-2.5" y="735.2" font-size="85" fill="#000" font-family='"Liberation Sans", sans-serif'>b</text>
<g clip-path="url(#clipC)">
<g transform="translate(0.7 667.8)">
<g fill="none" stroke="#0000ee" stroke-width="4.6" stroke-dasharray="15 15.5">
<path d="M89 793 C99.9 796.6 131.9 808.6 154.4 814.4 C176.9 820.2 199.9 824.1 224 827.8 C248.1 831.5 275.9 834.5 299 836.7 C322.1 838.9 340.6 839.6 362.8 841 C385 842.4 410 843.9 432 845 C454 846.1 466.8 847 495 847.8 C523.2 848.6 564.8 849.5 601 850 C637.2 850.5 679.6 850.7 712 850.6 C744.4 850.5 765.1 850 795.6 849.4 C826.1 848.8 866.9 848.1 895 847 C923.1 845.9 942.2 844.3 964.4 843 C986.6 841.7 1015.4 840.1 1028 839.4 C1040.6 838.6 1038 838.6 1040 838.5"/>
<path d="M1066 835 C1068 834.7 1064.8 834.7 1078 833.3 C1091.2 831.9 1124.6 829.2 1145 826.4 C1165.4 823.6 1184.4 819.7 1200.6 816.7 C1216.8 813.7 1229.1 811.6 1242 808.3 C1254.9 805 1269.2 800.5 1278 797 C1286.8 793.5 1290.8 789.8 1295 787.5 C1299.2 785.2 1301.7 784.2 1303 783.5"/>
<path d="M89 823.6 C90.2 826 93 833.6 96 838 C99 842.4 101 845.2 107 850 C113 854.8 121.8 861.5 132 866.7 C142.2 871.9 155 876.1 168 881 C181 885.9 196.1 891.3 210 895.8 C223.9 900.3 237.9 904.4 251.7 907.8 C265.5 911.2 279.1 913.6 293 916 C306.9 918.4 318.7 919.6 335 922 C351.3 924.4 372.1 928.3 390.6 930.6 C409.1 932.9 428.6 934.1 446 935.6 C463.4 937.1 473.8 938.3 495 939.4 C516.2 940.5 546 941.4 573 942.2 C600 943 628.9 944.1 656.7 944.4 C684.5 944.7 712.3 944.3 740 943.9 C767.7 943.5 797.2 942.6 823 941.7 C848.8 940.8 871.4 940.1 895 938.3 C918.6 936.4 942.2 932.9 964.4 930.6 C986.6 928.3 1012.1 926.7 1028 924.4 C1043.9 922.1 1054.7 918.2 1060 917"/>
<path d="M1085 913 C1086.7 912.7 1085 912.9 1095 911 C1105 909.1 1129.7 905.3 1145 901.4 C1160.3 897.5 1172.9 892.4 1186.7 887.5 C1200.5 882.6 1216.5 876.9 1228 872 C1239.5 867.1 1247.7 863.5 1256 858 C1264.3 852.5 1272.4 845 1278 839 C1283.6 833 1285.2 826.3 1289.4 822 C1293.6 817.7 1300.7 814.5 1303 813"/>
<path d="M89 949.4 C90.7 949.6 93.7 948.2 99 950.6 C104.3 953 111.8 958.9 121 963.9 C130.2 968.9 141.9 975.3 154.4 980.6 C166.9 985.9 182.1 990.9 196 995.8 C209.9 1000.6 223.9 1005.5 237.8 1009.7 C251.7 1013.9 262.6 1016.9 279.4 1020.8 C296.2 1024.7 314.8 1028.8 338.8 1032.9 C362.8 1037 396.5 1042 423.4 1045.4 C450.3 1048.8 479.3 1051.3 500 1053.2 C520.7 1055.1 522.9 1055.5 547.8 1056.6 C572.7 1057.7 615.5 1059.4 649.4 1060 C683.3 1060.6 717.1 1060.8 751 1060 C784.9 1059.2 824.4 1056.6 852.6 1054.9 C880.8 1053.2 899.2 1051.8 920.4 1049.8 C941.6 1047.8 960.1 1046.3 980 1043 C999.9 1039.7 1028.3 1032.6 1040 1030 C1051.7 1027.4 1048.3 1027.9 1050 1027.5"/>
<path d="M1078 1022.5 C1079.9 1022.2 1078.2 1023.4 1089.4 1020.8 C1100.6 1018.2 1126.5 1012.5 1145 1007 C1163.5 1001.5 1184.4 993.8 1200.6 987.5 C1216.8 981.2 1230.9 974.7 1242 969.4 C1253.1 964.1 1259.1 958.9 1267 955.6 C1274.9 952.3 1283.4 950.2 1289.4 949.4 C1295.4 948.6 1300.7 950.4 1303 950.6"/>
<path d="M89 1291 C99.6 1288.5 127.7 1281.2 152.4 1275.8 C177.1 1270.4 212.2 1262.9 237 1258.8 C261.9 1254.7 278.9 1252.6 301.5 1251 C324.1 1249.4 339.5 1249.4 372.6 1249.3 C405.7 1249.2 453.9 1249.8 500 1250.4 C546.1 1251 601.9 1252.7 649.4 1253 C696.9 1253.3 745.4 1252.4 784.9 1252 C824.4 1251.6 854 1251 886.5 1250.4 C919 1249.9 956.1 1248.9 980 1248.7 C1003.9 1248.5 1021.7 1249.4 1030 1249.5"/>
<path d="M1074 1251.5 C1075.2 1251.6 1069.1 1250.4 1081 1252 C1092.9 1253.6 1123.4 1257.3 1145.4 1261 C1167.4 1264.7 1186.7 1268.5 1213 1274 C1239.3 1279.5 1288 1290.4 1303 1293.7"/>
</g>
<g transform="translate(1053.5 829) rotate(0)"><rect x="-17.8" y="-14.2" width="35.6" height="28.5" fill="#0000ff"/><text x="0" y="7.4" font-size="20.6" font-weight="bold" fill="#fff" text-anchor="middle" font-family='"Liberation Sans", sans-serif'>300</text></g>
<g transform="translate(1071.4 908.3) rotate(-14)"><rect x="-18.5" y="-13.5" width="37" height="27" fill="#0000ff"/><text x="0" y="7.4" font-size="20.6" font-weight="bold" fill="#fff" text-anchor="middle" font-family='"Liberation Sans", sans-serif'>600</text></g>
<g transform="translate(1064.5 1031) rotate(-15)"><rect x="-18.5" y="-13.5" width="37" height="27" fill="#0000ff"/><text x="0" y="7.4" font-size="20.6" font-weight="bold" fill="#fff" text-anchor="middle" font-family='"Liberation Sans", sans-serif'>900</text></g>
<g transform="translate(1053 1248) rotate(0)"><rect x="-24.1" y="-14.5" width="48.2" height="29" fill="#0000ff"/><text x="0" y="7.4" font-size="20.6" font-weight="bold" fill="#fff" text-anchor="middle" font-family='"Liberation Sans", sans-serif'>1200</text></g>
</g></g>
<g transform="translate(0.7 667.8)">
<rect x="89.5" y="703.3" width="1213.5" height="602" fill="none" stroke="#2a2a2a" stroke-width="1.1"/>
<path d="M249.7 1305.3 v-12 M249.7 703.3 v12 M478.3 1305.3 v-12 M478.3 703.3 v12 M707.3 1305.3 v-12 M707.3 703.3 v12 M936 1305.3 v-12 M936 703.3 v12 M1164.5 1305.3 v-12 M1164.5 703.3 v12 M89.5 823.8 h12 M1303 823.8 h-12 M89.5 944.3 h12 M1303 944.3 h-12 M89.5 1064.6 h12 M1303 1064.6 h-12 M89.5 1185 h12 M1303 1185 h-12" stroke="#2a2a2a" stroke-width="1.1" fill="none"/>
<g font-family='"Liberation Sans", sans-serif'>
<text x="79.3" y="715.5" font-size="28" text-anchor="end" fill="#262626">0</text>
<text x="79.3" y="836.5" font-size="28" text-anchor="end" fill="#262626">10</text>
<text x="79.3" y="956.5" font-size="28" text-anchor="end" fill="#262626">20</text>
<text x="79.3" y="1076" font-size="28" text-anchor="end" fill="#262626">30</text>
<text x="79.3" y="1197" font-size="28" text-anchor="end" fill="#262626">40</text>
<text x="79.3" y="1318" font-size="28" text-anchor="end" fill="#262626">50</text>
<text x="36.4" y="1003" font-size="30.5" text-anchor="middle" fill="#262626" transform="rotate(-90 36.4 1003)">Depth km</text>
</g>
</g>
<g stroke-linecap="round"><line x1="23.7" y1="1880.4" x2="23.7" y2="1915.6" stroke="#000" stroke-width="5"/><circle cx="23.7" cy="1880.4" r="6.8" fill="#000"/><circle cx="23.7" cy="1915.6" r="6.8" fill="#000"/><line x1="42" y1="1880.4" x2="42" y2="1951.5" stroke="#b0adad" stroke-width="4.6"/><circle cx="42" cy="1880.4" r="6.8" fill="#b0adad"/><circle cx="42" cy="1951.5" r="6.8" fill="#b0adad"/></g>
<defs><linearGradient id="cbC" x1="0" y1="0" x2="0" y2="1"><stop offset="0" stop-color="#ff0000"/><stop offset="1" stop-color="#ffff00"/></linearGradient></defs>
<rect x="1325.6" y="1362" width="39" height="616.6" fill="url(#cbC)" stroke="#2a2a2a" stroke-width="1.1"/>
<g font-family='"Liberation Sans", sans-serif'>
<text x="1373" y="1372.9" font-size="25.4" text-anchor="start" fill="#262626">1200</text>
<text x="1373" y="1434.6" font-size="25.4" text-anchor="start" fill="#262626">1100</text>
<text x="1373" y="1496.2" font-size="25.4" text-anchor="start" fill="#262626">1000</text>
<text x="1373" y="1557.9" font-size="25.4" text-anchor="start" fill="#262626">900</text>
<text x="1373" y="1619.5" font-size="25.4" text-anchor="start" fill="#262626">800</text>
<text x="1373" y="1681.2" font-size="25.4" text-anchor="start" fill="#262626">700</text>
<text x="1373" y="1742.9" font-size="25.4" text-anchor="start" fill="#262626">600</text>
<text x="1373" y="1804.5" font-size="25.4" text-anchor="start" fill="#262626">500</text>
<text x="1373" y="1866.2" font-size="25.4" text-anchor="start" fill="#262626">400</text>
<text x="1373" y="1927.8" font-size="25.4" text-anchor="start" fill="#262626">300</text>
<text x="1373" y="1989.5" font-size="25.4" text-anchor="start" fill="#262626">200</text>
<text x="0" y="0" font-size="25" fill="#262626" text-anchor="middle" transform="translate(1468.5 1671.5) rotate(-90)" >T (<tspan dy="-9" font-size="19">o</tspan><tspan dy="9">)</tspan></text>
</g>
<path d="M1364.6 1423.7 h-7 M1364.6 1485.3 h-7 M1364.6 1547 h-7 M1364.6 1608.6 h-7 M1364.6 1670.3 h-7 M1364.6 1732 h-7 M1364.6 1793.6 h-7 M1364.6 1855.3 h-7 M1364.6 1916.9 h-7" stroke="#2a2a2a" stroke-width="1.1" fill="none"/>
<g font-family='"Liberation Sans", sans-serif'>
<text x="250.7" y="2011.3" font-size="28" text-anchor="middle" fill="#262626">-15.5</text>
<text x="478.3" y="2011.3" font-size="28" text-anchor="middle" fill="#262626">-15</text>
<text x="708.5" y="2011.3" font-size="28" text-anchor="middle" fill="#262626">-14.5</text>
<text x="937.3" y="2011.3" font-size="28" text-anchor="middle" fill="#262626">-14</text>
<text x="1165.7" y="2011.3" font-size="28" text-anchor="middle" fill="#262626">-13.5</text>
<text x="607" y="2058.7" font-size="30.3" fill="#262626" text-anchor="start">Longitude (<tspan dx="3" dy="-11.5" font-size="22">o</tspan><tspan dx="3" dy="11.5">)</tspan></text>
</g>
<defs><filter id="sh" x="-20%" y="-20%" width="150%" height="150%"><feDropShadow dx="1.5" dy="1.5" stdDeviation="1.2" flood-color="#000" flood-opacity="0.45"/></filter></defs>
<g font-family='"Liberation Serif", serif' font-size="63.5" filter="url(#sh)" stroke-width="0.9">
<text x="132.8" y="2021.5" fill="#ff0000" stroke="#ff0000" textLength="64.2" lengthAdjust="spacingAndGlyphs">B1</text>
<text x="359.8" y="2021.5" fill="#5b9bd5" stroke="#5b9bd5" textLength="65.7" lengthAdjust="spacingAndGlyphs">A1</text>
<text x="579" y="2021.5" fill="#ff0000" stroke="#ff0000" textLength="65.8" lengthAdjust="spacingAndGlyphs">B2</text>
<text x="819.4" y="2021.5" fill="#5b9bd5" stroke="#5b9bd5" textLength="67.6" lengthAdjust="spacingAndGlyphs">A2</text>
<text x="1053" y="2021.5" fill="#ff0000" stroke="#ff0000" textLength="65.1" lengthAdjust="spacingAndGlyphs">B3</text>
</g>
<text x="-7.5" y="1422" font-size="81" fill="#000" stroke="#000" stroke-width="1.1" font-family='"Liberation Sans", sans-serif'>c</text>
</svg></body></html>
